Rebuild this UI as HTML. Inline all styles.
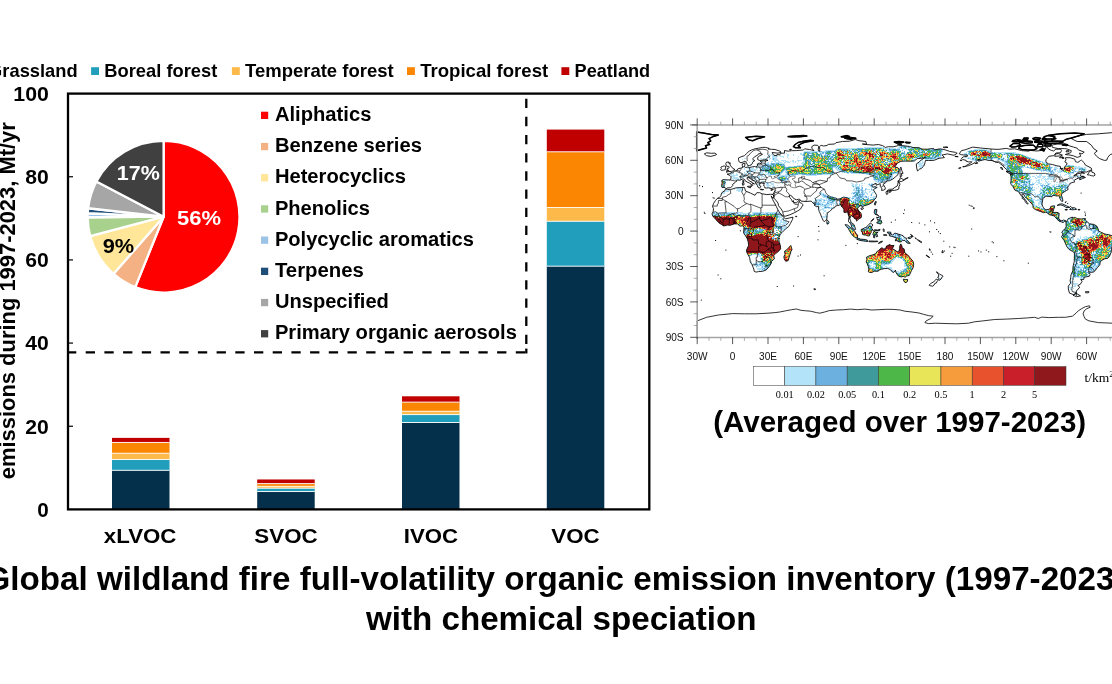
<!DOCTYPE html><html><head><meta charset="utf-8"><title>Global wildland fire emission inventory</title>
<style>html,body{margin:0;padding:0;background:#fff;}body{width:1112px;height:684px;overflow:hidden;}svg{display:block;}text{font-family:"Liberation Sans",Arial,sans-serif;font-weight:bold;fill:#000;}.ser{font-family:"Liberation Serif","Times New Roman",serif;font-weight:normal;}.reg{font-weight:normal;}</style></head><body>
<svg width="1112" height="684" viewBox="0 0 1112 684">
<rect width="1112" height="684" fill="#fff"/>
<defs>
<clipPath id="landclip"><path d="M1040.0 149.8 L1044.1 150.4 L1044.7 149.2 L1042.3 148.6Z M1012.3 141.5 L1017.0 141.8 L1021.1 140.3 L1017.6 139.8 L1012.9 140.6Z M1034.7 142.3 L1041.8 142.7 L1042.3 141.2 L1038.2 140.7 L1034.7 141.3Z M1043.5 143.1 L1047.1 143.1 L1047.1 142.1 L1043.5 142.1Z M1033.5 139.4 L1039.4 139.4 L1040.6 138.2 L1035.3 137.6 L1032.9 138.5Z M1042.3 139.4 L1045.3 139.4 L1045.9 138.5 L1042.9 138.2Z M1022.9 140.0 L1027.6 140.1 L1027.6 139.2 L1023.5 139.0Z M1023.5 138.8 L1027.6 138.8 L1028.2 138.1 L1024.1 138.0Z M1062.4 145.1 L1066.5 145.6 L1067.7 144.8 L1064.2 144.1Z M1066.0 151.8 L1068.9 151.8 L1068.9 150.7 L1066.5 150.6Z M1059.5 157.7 L1063.0 157.7 L1063.0 156.9 L1060.0 156.9Z M1062.4 158.5 L1063.9 158.5 L1063.8 157.6 L1062.6 157.6Z M1060.6 168.9 L1062.8 168.9 L1062.8 168.4 L1060.6 168.4Z M1081.3 172.4 L1084.2 173.1 L1084.6 173.3 L1082.5 173.0Z M1081.5 176.1 L1084.2 176.4 L1083.7 176.9 L1081.9 176.7Z M1000.5 167.5 L1002.0 167.5 L1002.8 169.6 L1001.6 169.2Z M960.0 160.2 L961.9 160.0 L961.8 160.6 L960.3 160.6Z M954.8 156.3 L958.0 156.5 L958.2 156.9 L955.0 156.5Z M962.7 166.7 L964.7 166.3 L964.5 166.9Z M958.6 168.3 L960.9 167.5 L960.7 168.1Z M943.2 147.2 L946.8 146.8 L948.0 147.4 L944.4 147.7Z M894.3 142.1 L899.0 141.5 L903.7 142.1 L901.3 142.9 L896.6 143.1Z M905.5 142.2 L910.2 142.5 L909.6 142.9 L906.1 142.8Z M897.8 144.1 L901.9 144.5 L900.2 144.8 L897.6 144.6Z M844.7 138.0 L850.6 137.6 L855.9 138.2 L850.6 139.2 L847.1 138.8Z M841.2 136.8 L847.1 135.6 L849.4 136.4 L844.7 137.2Z M788.1 136.6 L795.1 135.9 L803.4 135.6 L806.9 136.1 L799.9 136.8 L791.6 136.9Z M789.6 149.4 L791.4 149.3 L791.0 150.0 L789.8 150.0Z M742.3 182.8 L743.9 182.6 L744.0 184.9 L742.6 185.2Z M742.7 180.6 L743.8 180.5 L743.7 182.2 L743.0 182.1Z M747.4 186.4 L750.9 186.1 L750.4 187.9 L747.4 186.8Z M760.3 189.2 L763.6 189.5 L763.3 189.9 L760.4 189.7Z M770.7 189.9 L773.3 189.2 L772.7 190.0 L771.0 190.4Z M795.5 216.3 L796.9 216.3 L796.8 216.7 L795.6 216.7Z M778.9 238.0 L779.2 238.3 L779.1 238.8Z M1084.5 218.6 L1085.4 218.5 L1085.4 219.3 L1084.5 219.3Z M1085.4 291.7 L1089.0 291.7 L1088.6 292.8 L1085.7 292.8Z M813.8 288.8 L815.8 289.0 L815.2 289.7 L814.0 289.5Z M941.8 251.7 L943.3 251.7 L943.2 252.7 L941.9 252.6Z M929.2 248.9 L929.9 248.9 L930.2 250.4 L929.7 250.3Z M917.3 239.5 L919.0 240.3 L922.0 242.2 L921.4 242.6 L918.5 240.9Z M915.1 237.7 L916.4 238.6 L916.2 239.2 L915.3 238.3Z M910.5 234.4 L912.6 235.7 L913.1 236.7 L912.3 236.2Z M904.3 179.3 L907.8 177.5 L908.2 177.7 L904.9 179.5Z M725.5 189.0 L730.2 189.7 L736.1 187.8 L742.0 187.5 L744.4 187.3 L745.6 191.1 L750.3 193.0 L755.0 195.3 L756.8 192.7 L759.7 192.7 L762.1 193.8 L766.8 194.6 L770.4 194.3 L773.0 194.4 L773.8 196.4 L773.0 198.4 L771.1 195.9 L772.5 199.3 L774.5 202.9 L776.3 206.4 L778.0 210.0 L779.8 212.9 L782.8 215.9 L783.7 217.5 L785.7 218.8 L789.2 218.0 L793.0 217.2 L792.5 219.4 L790.4 223.5 L788.7 226.5 L785.7 228.8 L782.2 232.4 L780.4 234.1 L779.0 237.1 L778.9 239.5 L779.3 243.0 L780.4 245.4 L780.6 248.9 L778.6 251.3 L775.7 253.6 L773.7 255.4 L774.4 258.9 L771.5 261.3 L771.3 263.1 L769.2 266.6 L766.2 269.9 L762.7 271.3 L758.6 271.6 L756.0 272.1 L754.2 271.3 L753.8 269.0 L752.1 264.8 L750.3 261.9 L749.7 257.8 L746.8 252.4 L746.5 250.1 L748.6 245.4 L748.2 241.8 L747.0 238.3 L745.6 235.9 L743.6 233.0 L743.8 230.0 L744.0 227.1 L742.6 225.9 L739.7 226.1 L737.9 223.9 L734.4 223.9 L730.2 225.3 L727.3 225.1 L723.8 226.0 L721.4 224.4 L719.0 222.9 L717.0 220.8 L714.9 218.2 L712.9 216.4 L712.0 213.9 L713.1 211.7 L713.5 208.8 L712.5 206.4 L713.7 203.2 L715.5 200.5 L717.3 198.4 L719.6 197.2 L721.0 195.8 L721.2 194.0 L722.6 191.9 L724.6 191.1Z M790.8 245.4 L792.0 249.5 L791.0 251.3 L789.2 257.2 L788.1 260.7 L785.7 261.3 L784.2 258.9 L783.9 256.6 L785.1 254.2 L784.5 251.3 L786.9 249.7 L789.2 247.1Z M722.0 187.5 L721.5 185.5 L722.2 182.8 L721.7 180.5 L723.2 179.6 L727.9 179.9 L730.5 180.0 L731.2 176.9 L729.7 175.4 L727.1 174.1 L730.7 173.7 L730.8 172.6 L732.8 172.8 L734.5 171.3 L736.7 170.5 L738.1 168.7 L740.9 168.1 L742.9 167.5 L742.3 165.7 L742.3 163.9 L745.0 163.1 L744.8 165.1 L744.4 166.8 L745.6 167.5 L747.4 167.0 L749.4 167.5 L752.1 166.9 L754.4 166.5 L756.0 167.0 L757.4 165.9 L757.4 163.9 L759.2 163.1 L761.2 163.7 L761.3 162.4 L760.2 161.3 L763.3 160.9 L765.6 160.9 L768.0 160.4 L766.2 159.8 L763.3 159.9 L759.7 160.5 L757.7 159.5 L757.7 157.4 L759.7 155.7 L762.5 154.3 L760.9 153.6 L758.6 153.7 L757.7 155.1 L754.4 156.9 L752.9 158.6 L753.0 159.7 L754.8 160.6 L752.7 162.1 L752.1 163.9 L751.2 164.9 L749.5 165.6 L747.9 165.8 L747.6 164.9 L746.5 163.1 L745.6 161.6 L745.0 161.0 L743.8 161.8 L740.9 162.8 L739.1 161.8 L738.5 159.8 L738.5 158.0 L740.9 156.9 L744.4 155.7 L746.8 153.3 L749.1 151.2 L751.5 150.0 L755.0 148.8 L758.6 148.2 L762.7 147.4 L765.6 147.4 L769.2 148.4 L768.0 149.0 L771.5 149.3 L775.1 149.5 L780.4 151.3 L781.0 152.6 L777.4 153.1 L772.1 152.5 L773.3 154.5 L773.9 155.3 L776.9 155.7 L776.9 154.5 L779.8 154.9 L780.4 153.3 L784.5 153.1 L784.5 150.5 L788.1 151.2 L791.6 150.7 L796.3 150.6 L799.9 150.3 L803.4 150.0 L804.6 148.8 L809.3 149.5 L811.7 150.0 L814.0 150.7 L812.2 148.6 L811.7 146.8 L814.0 145.1 L817.6 145.3 L818.7 146.8 L818.2 149.8 L819.3 151.6 L819.9 149.8 L819.3 146.8 L821.1 145.3 L823.5 146.0 L827.0 145.5 L828.2 144.4 L834.7 144.0 L835.9 142.7 L842.3 141.5 L849.4 141.2 L855.3 139.5 L858.9 140.7 L865.9 141.5 L866.5 144.2 L862.4 144.0 L865.9 144.5 L873.0 145.1 L878.3 144.5 L882.5 145.6 L885.4 147.4 L888.4 146.7 L893.1 146.8 L897.2 145.9 L898.4 145.3 L904.9 145.9 L909.6 146.5 L913.1 147.5 L919.0 147.7 L922.0 149.1 L927.3 149.2 L930.8 148.7 L933.8 148.6 L934.4 149.8 L940.3 148.8 L945.0 149.8 L949.7 151.4 L955.6 152.4 L957.2 153.3 L953.9 155.3 L947.4 153.9 L943.8 154.7 L942.1 154.9 L944.4 157.6 L939.1 158.3 L933.8 160.4 L928.5 160.5 L925.5 160.4 L924.9 162.8 L924.4 164.9 L923.5 166.3 L921.4 168.4 L919.6 169.2 L917.5 171.0 L916.7 168.1 L916.3 163.9 L919.0 162.2 L921.4 159.8 L925.5 157.4 L921.4 158.3 L917.3 158.6 L914.3 161.0 L910.8 161.2 L904.9 161.1 L900.8 161.3 L897.2 163.3 L894.9 166.9 L898.4 168.1 L899.3 169.2 L898.4 172.2 L898.0 174.6 L895.4 176.9 L892.5 179.3 L889.5 180.7 L887.2 181.0 L886.6 181.3 L885.6 182.8 L883.1 184.2 L885.2 187.5 L885.2 189.3 L883.6 190.1 L881.6 190.5 L881.9 188.1 L880.1 186.6 L880.5 184.6 L879.3 184.0 L876.2 185.2 L876.0 183.2 L873.0 184.9 L871.5 185.8 L873.0 187.2 L875.1 186.6 L877.2 187.5 L874.6 188.7 L873.4 189.9 L875.1 192.6 L876.3 194.6 L876.6 195.8 L876.0 197.9 L874.2 199.9 L873.0 201.7 L870.7 203.5 L867.4 204.9 L863.6 205.9 L862.4 207.2 L861.8 205.8 L860.0 205.7 L858.3 207.6 L857.4 208.8 L858.9 211.1 L860.9 212.9 L861.6 215.9 L861.2 217.6 L858.9 218.9 L856.5 221.1 L856.3 219.4 L854.1 218.2 L853.6 216.8 L851.8 216.2 L851.2 215.3 L850.6 216.4 L849.8 218.8 L850.4 220.2 L851.2 222.7 L852.6 223.5 L854.1 224.7 L854.7 226.5 L855.6 229.4 L854.7 229.7 L852.1 227.9 L851.0 224.7 L850.2 223.2 L848.6 221.8 L848.6 219.4 L849.1 217.0 L847.9 213.5 L847.7 211.7 L845.3 212.6 L843.9 212.3 L843.9 209.4 L842.9 207.8 L841.2 205.8 L840.6 204.4 L839.2 205.2 L837.6 205.5 L835.3 206.1 L834.7 207.6 L832.9 208.2 L829.7 211.5 L827.2 212.9 L827.2 215.5 L826.8 219.0 L825.8 220.3 L824.6 221.4 L824.1 221.6 L822.9 220.0 L821.7 217.3 L820.5 214.1 L819.3 211.7 L818.5 208.8 L818.4 206.2 L817.9 206.4 L816.4 206.7 L814.0 204.9 L815.6 204.1 L813.4 203.5 L812.0 201.9 L811.1 201.1 L805.8 201.5 L801.0 201.1 L799.9 199.3 L798.7 199.2 L796.3 199.8 L793.4 198.3 L792.2 196.4 L790.4 195.3 L789.2 195.8 L789.8 197.6 L791.6 199.7 L792.5 201.9 L793.5 200.6 L793.4 202.4 L796.3 202.8 L798.7 200.8 L799.2 200.2 L799.4 202.3 L801.7 203.4 L803.2 204.8 L801.6 207.1 L800.7 208.9 L797.5 211.1 L794.2 212.8 L790.1 214.7 L785.7 216.1 L783.9 216.2 L783.0 213.7 L782.8 211.7 L781.0 208.8 L778.6 205.8 L778.0 203.1 L776.3 200.8 L774.1 198.2 L773.8 196.4 L773.1 194.3 L773.9 192.5 L775.0 190.4 L775.1 188.7 L775.2 187.8 L773.4 187.8 L771.0 188.6 L768.7 187.8 L766.8 188.0 L764.8 187.9 L764.8 187.1 L763.6 186.0 L764.2 184.6 L763.5 184.0 L764.5 183.5 L763.3 183.3 L760.9 182.9 L760.3 183.8 L759.4 183.4 L759.4 184.8 L760.0 186.1 L760.9 186.4 L759.7 188.1 L759.0 188.1 L757.7 186.9 L757.4 185.2 L755.6 183.4 L755.6 181.9 L754.4 181.0 L751.5 179.9 L750.3 178.3 L748.8 177.9 L748.6 177.3 L747.1 177.6 L747.2 179.0 L748.6 179.9 L749.7 181.3 L751.5 181.8 L751.5 182.3 L754.4 183.8 L754.3 184.1 L752.7 183.4 L752.1 184.4 L752.8 185.2 L752.1 186.0 L751.1 186.4 L751.4 185.3 L751.1 184.0 L749.6 183.2 L747.1 182.0 L745.0 180.6 L744.6 179.4 L743.0 178.8 L741.5 179.5 L739.7 180.3 L737.9 180.0 L736.4 180.2 L736.4 181.3 L735.2 182.5 L733.0 184.0 L732.4 184.8 L732.8 185.4 L731.8 186.7 L730.2 187.8 L727.3 187.9 L726.1 188.7 L725.2 187.8 L724.0 187.3Z M726.1 172.1 L728.5 171.6 L731.4 171.4 L734.1 170.8 L734.5 169.0 L733.0 168.7 L732.4 167.5 L730.8 166.3 L730.2 165.1 L729.7 163.3 L730.5 163.2 L728.5 163.1 L729.1 162.1 L726.7 162.1 L725.8 163.3 L726.1 165.1 L726.7 166.3 L728.8 166.4 L729.1 167.5 L728.8 168.2 L727.3 168.4 L727.5 169.5 L726.5 170.1 L728.5 170.4 L729.1 170.7 L727.3 171.0Z M725.5 169.6 L725.3 168.1 L726.0 166.9 L724.3 165.9 L722.8 166.3 L720.8 167.2 L721.4 168.4 L720.6 169.8 L721.4 170.4 L723.2 170.1Z M706.6 155.7 L704.3 153.9 L706.6 152.8 L711.4 153.3 L714.9 153.1 L716.7 154.5 L714.9 155.3 L710.8 156.4Z M696.7 132.1 L703.1 132.9 L711.4 134.4 L718.4 135.0 L712.5 136.8 L709.0 138.6 L710.8 140.9 L707.8 142.7 L709.6 144.5 L705.5 145.6 L706.6 148.0 L701.9 149.2 L696.7 150.7Z M1111.4 132.7 L1098.4 133.8 L1086.6 134.4 L1077.2 136.2 L1071.3 138.6 L1077.2 141.5 L1086.6 141.5 L1091.3 145.1 L1093.7 148.6 L1097.2 151.0 L1094.3 153.3 L1096.6 156.3 L1099.6 158.6 L1104.3 160.4 L1106.7 160.2 L1107.8 157.4 L1110.2 154.5 L1113.7 153.6 L1114.9 132.7Z M745.6 137.4 L749.1 140.1 L752.7 140.7 L757.4 138.8 L764.5 136.8 L756.2 136.3 L749.1 136.9Z M793.4 146.6 L795.7 147.7 L800.5 147.8 L798.1 145.6 L801.0 143.9 L804.6 142.3 L813.4 140.8 L810.5 140.3 L803.4 141.2 L798.1 142.5 L795.1 144.5Z M887.1 191.1 L889.0 190.7 L891.9 190.4 L894.3 190.4 L896.6 189.9 L898.7 189.1 L899.0 186.4 L899.9 184.6 L899.5 182.3 L898.0 182.8 L897.8 184.2 L897.2 186.0 L894.6 187.5 L894.0 187.7 L893.1 189.1 L889.5 189.3 L887.2 190.6Z M897.8 182.2 L899.0 181.0 L901.3 181.6 L904.3 180.1 L902.9 179.3 L900.2 177.6 L899.7 180.1 L898.2 180.5Z M886.0 191.7 L888.0 191.6 L887.8 194.0 L886.6 194.4 L886.0 192.8Z M889.0 191.2 L891.3 190.8 L891.0 191.8 L889.5 192.5Z M900.2 176.9 L901.9 176.0 L901.3 173.4 L903.1 173.4 L901.7 170.4 L901.3 168.1 L900.8 167.1 L900.2 168.7 L899.9 172.2 L900.2 174.6Z M875.4 201.5 L876.4 201.7 L875.1 205.2 L874.4 204.1Z M860.9 208.4 L863.0 207.6 L863.6 208.1 L862.4 209.6 L860.9 209.1Z M827.0 219.8 L828.5 221.2 L829.1 222.9 L828.2 223.9 L827.0 224.1 L826.8 221.8Z M874.8 209.4 L876.8 209.5 L876.6 212.0 L876.0 213.5 L878.9 215.9 L878.7 216.2 L877.2 214.9 L875.0 214.3 L874.2 212.3Z M876.6 217.3 L878.0 217.6 L880.5 216.4 L880.7 218.2 L879.5 219.4 L877.7 220.3 L877.2 218.8Z M876.6 222.9 L878.3 221.1 L880.7 219.8 L881.9 222.3 L880.7 224.1 L878.9 223.5Z M870.9 221.3 L873.6 218.5 L873.8 218.9 L871.4 221.5Z M861.2 229.4 L862.4 229.2 L864.2 228.0 L865.9 227.4 L868.3 225.3 L870.3 222.9 L871.5 223.8 L873.0 225.1 L871.8 226.1 L871.6 228.2 L872.9 230.0 L871.2 230.6 L871.2 232.4 L870.1 234.1 L869.5 235.9 L867.7 235.9 L865.9 235.0 L864.2 235.0 L862.6 234.5 L862.4 232.7 L861.2 230.8Z M845.1 224.6 L847.7 225.1 L850.6 227.7 L852.4 228.8 L854.7 231.2 L855.9 233.6 L857.7 235.0 L857.4 238.0 L855.9 238.0 L853.0 235.9 L851.2 233.6 L849.4 230.6 L848.2 228.2 L846.5 226.7Z M856.7 239.2 L858.3 238.3 L860.6 239.1 L863.0 239.3 L865.6 239.5 L867.7 240.4 L867.7 241.5 L863.6 241.0 L860.0 240.4 L858.3 239.9Z M868.9 241.0 L870.7 241.0 L873.0 241.1 L875.4 241.2 L877.7 241.0 L877.7 241.6 L874.2 241.8 L870.7 241.8 L868.9 241.6Z M878.3 243.4 L880.1 241.8 L882.5 241.1 L882.2 241.8 L880.1 243.0Z M873.6 230.3 L875.1 229.7 L877.7 230.1 L880.1 229.3 L879.5 230.7 L876.0 230.6 L874.4 231.2 L875.4 232.4 L878.1 232.3 L876.6 233.3 L877.2 235.1 L877.7 236.5 L876.6 236.9 L876.0 235.9 L875.4 234.4 L874.6 234.7 L874.7 237.8 L873.6 237.7 L873.6 235.3 L872.8 234.5 L874.0 231.3Z M883.1 228.8 L884.2 229.4 L884.0 231.8 L883.3 230.6Z M883.6 234.7 L886.6 234.7 L886.8 235.4 L883.6 235.3Z M887.2 232.1 L890.7 232.1 L891.0 234.1 L892.5 235.1 L894.9 233.1 L899.0 234.3 L903.1 235.7 L904.6 237.7 L906.7 238.3 L906.1 239.2 L910.2 243.4 L907.2 243.1 L904.9 240.6 L902.5 240.3 L901.3 241.8 L899.0 241.9 L896.6 240.6 L895.4 241.0 L895.4 239.5 L896.6 239.7 L896.0 237.7 L891.9 236.4 L889.5 235.9 L889.3 234.5 L890.7 233.8 L888.4 233.8Z M907.8 237.8 L909.6 237.1 L912.0 236.2 L912.3 237.1 L910.2 238.5 L908.4 238.6Z M866.5 257.2 L867.1 256.9 L869.5 255.7 L873.0 254.8 L876.0 253.6 L876.9 251.5 L878.6 250.7 L880.1 248.9 L881.9 247.7 L883.6 248.9 L885.4 248.8 L886.6 245.9 L889.0 245.4 L889.0 244.5 L891.9 245.6 L894.0 245.4 L893.1 247.1 L892.5 248.9 L894.9 250.1 L897.2 251.8 L898.7 251.8 L899.6 248.9 L899.8 245.9 L900.8 243.9 L901.9 245.9 L902.2 248.1 L904.1 248.9 L904.9 253.0 L907.8 255.0 L910.5 258.3 L913.1 261.3 L913.7 264.2 L913.1 267.8 L911.4 270.7 L909.8 274.3 L909.4 275.4 L906.7 276.0 L905.2 277.2 L903.1 276.3 L901.9 277.0 L899.0 276.3 L897.8 275.4 L896.0 272.5 L895.4 270.1 L894.3 271.9 L893.1 272.5 L892.5 272.1 L890.7 269.9 L887.8 268.4 L884.8 268.5 L881.3 269.3 L878.9 270.1 L878.3 271.2 L874.2 271.2 L871.8 272.5 L869.5 272.4 L868.3 271.6 L868.9 269.0 L868.3 266.6 L867.1 263.6 L866.2 261.9 L866.9 259.5Z M903.3 279.2 L905.5 279.6 L907.6 279.5 L907.5 281.0 L906.7 282.3 L904.9 282.5 L903.9 281.0Z M936.4 271.8 L938.3 272.9 L939.7 274.3 L942.6 275.6 L943.0 276.6 L941.5 277.6 L941.2 279.0 L939.5 280.3 L938.7 279.9 L939.1 278.4 L937.7 277.6 L938.7 276.0 L938.5 274.3 L936.7 272.5Z M936.4 279.0 L938.2 280.2 L936.7 281.9 L936.5 282.9 L934.7 283.5 L934.0 285.2 L932.6 286.2 L930.2 285.7 L929.1 285.2 L931.2 283.1 L933.8 281.9 L935.0 280.5Z M926.1 255.0 L927.9 256.0 L929.7 257.5 L929.1 257.6 L926.7 256.0Z M959.2 153.8 L961.5 150.6 L965.1 149.8 L972.7 147.1 L980.4 148.0 L991.0 149.0 L998.1 149.4 L1006.4 148.4 L1009.9 149.2 L1014.6 148.8 L1021.7 150.6 L1028.8 151.2 L1030.0 150.4 L1037.0 151.0 L1041.8 150.4 L1044.1 151.6 L1044.7 149.8 L1046.5 146.5 L1048.8 149.2 L1051.2 150.3 L1053.6 151.0 L1055.9 149.2 L1060.6 149.2 L1061.5 150.4 L1060.6 152.7 L1055.9 153.0 L1054.7 154.5 L1053.6 155.7 L1048.8 156.3 L1045.9 159.8 L1045.9 161.8 L1048.2 163.9 L1052.4 164.5 L1057.1 165.9 L1060.3 166.3 L1060.6 168.7 L1061.8 169.8 L1063.6 170.4 L1064.2 169.2 L1064.4 166.9 L1066.5 165.1 L1067.1 163.3 L1064.8 161.9 L1066.0 159.8 L1065.4 157.7 L1070.1 157.7 L1074.8 159.2 L1075.4 161.6 L1077.8 162.4 L1080.7 160.4 L1081.3 160.0 L1084.2 162.8 L1085.4 165.1 L1089.0 166.9 L1091.3 168.1 L1091.7 169.8 L1090.1 170.4 L1086.6 172.0 L1081.9 171.8 L1078.9 172.0 L1075.4 174.6 L1073.6 175.9 L1077.2 174.0 L1080.7 173.1 L1081.5 174.0 L1080.1 175.1 L1081.3 176.7 L1085.4 177.5 L1082.5 178.6 L1079.8 179.8 L1079.3 178.7 L1081.3 177.5 L1078.3 178.1 L1076.0 179.3 L1074.6 179.8 L1073.9 181.0 L1074.8 181.9 L1073.0 182.3 L1070.1 183.3 L1069.8 184.6 L1068.5 185.8 L1067.7 187.5 L1068.1 189.5 L1066.5 190.5 L1064.2 191.9 L1061.8 193.4 L1061.5 195.4 L1062.6 198.8 L1062.9 201.1 L1061.8 201.5 L1060.6 199.9 L1059.8 198.2 L1059.5 196.7 L1058.3 195.8 L1056.5 196.0 L1054.2 195.4 L1052.4 195.6 L1052.0 196.7 L1050.0 196.6 L1046.7 196.2 L1045.3 196.7 L1042.9 198.4 L1042.6 200.5 L1042.0 204.1 L1042.7 206.4 L1043.8 208.4 L1045.9 209.7 L1048.8 209.3 L1050.4 208.2 L1050.8 206.4 L1053.6 205.8 L1054.7 205.9 L1054.2 208.2 L1053.6 209.4 L1053.2 211.1 L1052.6 212.4 L1055.9 212.4 L1058.3 212.6 L1059.1 213.5 L1058.9 216.4 L1058.6 218.2 L1060.0 220.2 L1061.8 220.8 L1063.6 220.0 L1066.0 220.9 L1066.5 221.8 L1068.3 218.6 L1070.1 218.0 L1072.4 217.0 L1073.0 218.2 L1074.8 217.3 L1077.2 218.6 L1081.3 219.0 L1084.2 218.6 L1085.4 220.0 L1086.6 221.2 L1089.5 223.8 L1093.7 224.4 L1096.6 225.9 L1098.4 229.4 L1098.4 231.2 L1100.8 232.1 L1104.9 234.1 L1108.4 234.6 L1112.0 235.7 L1115.7 237.5 L1116.2 240.6 L1113.7 244.2 L1111.4 247.1 L1111.4 251.8 L1109.6 256.0 L1107.8 258.3 L1104.9 258.7 L1101.9 260.3 L1100.2 261.9 L1099.8 264.8 L1097.2 267.8 L1095.5 270.1 L1094.0 271.9 L1090.7 272.4 L1088.5 271.3 L1090.1 274.3 L1089.3 276.3 L1084.2 277.2 L1083.7 279.6 L1080.7 279.6 L1082.1 281.3 L1080.3 284.3 L1077.8 285.5 L1079.8 287.2 L1076.6 290.8 L1076.0 292.9 L1076.8 293.1 L1073.6 294.7 L1069.5 293.1 L1068.3 289.0 L1068.3 286.1 L1070.7 283.1 L1070.1 280.8 L1070.7 277.8 L1071.0 274.9 L1072.8 270.7 L1073.0 266.6 L1074.2 261.9 L1074.4 256.0 L1074.4 252.8 L1072.4 251.3 L1068.9 249.3 L1067.1 247.1 L1066.0 244.8 L1064.2 240.6 L1062.4 238.3 L1061.5 236.5 L1062.6 235.1 L1063.0 233.9 L1061.8 232.4 L1063.0 230.6 L1064.2 229.4 L1065.4 228.2 L1066.2 226.5 L1066.0 223.5 L1066.0 222.3 L1064.8 221.2 L1063.0 222.6 L1061.2 221.8 L1059.5 221.4 L1057.1 219.4 L1056.2 218.2 L1054.2 215.9 L1051.8 215.3 L1049.4 214.7 L1047.1 212.9 L1045.9 212.1 L1043.5 212.7 L1040.6 211.5 L1037.6 210.5 L1035.3 209.5 L1032.9 207.6 L1033.1 205.8 L1031.7 203.7 L1029.4 201.3 L1028.2 199.7 L1026.4 198.2 L1024.7 196.4 L1023.8 194.4 L1021.9 193.8 L1022.2 195.8 L1024.1 198.2 L1025.8 200.5 L1027.2 202.6 L1028.2 203.8 L1027.4 204.1 L1025.2 201.7 L1025.0 200.3 L1022.9 198.8 L1021.9 198.2 L1022.6 197.2 L1020.8 195.2 L1019.3 192.8 L1017.6 191.1 L1015.2 190.5 L1013.7 188.1 L1012.9 186.6 L1011.3 184.6 L1010.7 183.5 L1011.0 180.5 L1011.1 176.9 L1010.3 174.2 L1012.9 175.1 L1012.5 173.4 L1010.5 172.2 L1007.5 171.0 L1006.6 169.5 L1004.0 167.1 L1002.8 165.7 L1000.5 163.9 L998.7 162.4 L996.3 162.5 L994.6 161.6 L992.2 160.6 L988.1 160.4 L985.1 159.5 L982.2 160.2 L978.6 161.2 L978.0 159.5 L980.4 159.0 L978.0 159.8 L976.3 161.2 L975.1 162.5 L972.1 164.2 L968.6 165.6 L965.1 166.5 L966.8 165.1 L970.4 163.3 L971.9 161.8 L968.6 161.9 L966.2 161.3 L966.2 160.4 L962.7 159.5 L961.5 158.3 L963.3 156.9 L967.4 156.3 L967.4 155.1 L965.1 155.1 L961.5 154.7Z M1076.6 293.5 L1080.5 295.9 L1076.6 296.7 L1073.0 295.3 L1074.2 294.3Z M1057.2 205.4 L1059.5 204.1 L1062.4 203.9 L1066.5 205.8 L1069.8 207.4 L1066.0 207.7 L1065.4 206.8 L1063.0 205.6 L1060.6 204.9Z M1069.6 209.4 L1071.3 207.7 L1074.8 207.8 L1076.7 209.3 L1074.2 209.7 L1072.4 209.8Z M1065.0 209.5 L1067.4 209.5 L1067.1 210.1 L1065.4 210.1Z M1078.1 209.4 L1079.9 209.5 L1079.8 210.0 L1078.1 210.0Z M1087.4 174.9 L1089.5 171.6 L1091.7 170.4 L1091.9 172.2 L1094.3 173.0 L1095.1 175.1 L1093.7 176.0 L1091.3 175.7 L1089.5 175.0Z M1006.0 171.3 L1009.5 171.8 L1011.7 174.0 L1009.9 173.7 L1007.0 172.2Z M1063.0 144.2 L1067.7 145.3 L1073.6 147.1 L1077.2 148.2 L1078.3 149.8 L1084.2 152.1 L1081.9 153.9 L1079.5 153.0 L1080.7 156.3 L1077.2 157.4 L1073.6 155.9 L1070.1 155.1 L1065.4 154.5 L1070.7 152.7 L1071.3 150.7 L1066.5 148.8 L1064.2 148.6 L1058.3 148.6 L1052.4 147.4 L1051.8 145.1 L1057.1 144.1Z M1019.3 146.8 L1024.1 145.6 L1030.0 145.1 L1033.5 145.3 L1037.0 148.6 L1033.5 150.0 L1027.6 150.1 L1021.7 149.4 L1018.8 148.4Z M1009.9 146.2 L1013.4 143.5 L1018.8 143.6 L1020.5 145.1 L1015.8 146.8 L1011.7 147.1Z M1051.2 140.9 L1063.0 141.2 L1066.5 139.2 L1071.3 138.0 L1079.5 135.6 L1084.2 133.8 L1074.8 133.1 L1060.6 133.7 L1048.8 135.3 L1053.6 136.8 L1055.9 138.6 L1052.4 139.8Z M1044.1 142.1 L1048.8 143.2 L1058.3 143.3 L1063.0 142.7 L1061.8 141.5 L1052.4 141.2 L1044.1 140.9Z M1019.3 142.3 L1025.2 143.3 L1032.3 142.7 L1032.3 141.5 L1027.6 140.9 L1020.5 141.2Z M1044.7 146.0 L1050.6 146.0 L1051.2 144.1 L1045.3 143.9Z M1037.0 146.8 L1042.9 146.8 L1042.9 144.5 L1038.2 144.1Z M1044.1 139.2 L1053.6 138.8 L1054.7 136.4 L1047.7 135.6 L1044.1 136.8Z M1054.7 156.3 L1060.6 155.9 L1062.4 155.1 L1058.3 153.6 L1055.3 153.9Z M975.1 163.7 L977.7 163.3 L977.5 162.5 L975.9 162.9Z M973.3 208.8 L974.5 208.1 L973.6 207.4Z"/></clipPath>
<filter id="fire" filterUnits="userSpaceOnUse" x="697" y="125" width="415" height="213" color-interpolation-filters="sRGB">
<feGaussianBlur in="SourceGraphic" stdDeviation="1.2" result="b"/>
<feColorMatrix in="b" type="matrix" values="1 0 0 0 0  1 0 0 0 0  1 0 0 0 0  0 0 0 0 1" result="Ri"/>
<feColorMatrix in="b" type="matrix" values="0 1 0 0 0  0 1 0 0 0  0 1 0 0 0  0 0 0 0 1" result="Ai"/>
<feTurbulence type="fractalNoise" baseFrequency="0.11" numOctaves="2" seed="7" result="na"/>
<feTurbulence type="fractalNoise" baseFrequency="0.55" numOctaves="2" seed="11" result="nb"/>
<feColorMatrix in="na" type="matrix" values="0.5 0 0 0 0  0.5 0 0 0 0  0.5 0 0 0 0  0 0 0 0 1" result="na2"/>
<feColorMatrix in="nb" type="matrix" values="0.5 0 0 0 0  0.5 0 0 0 0  0.5 0 0 0 0  0 0 0 0 1" result="nb2"/>
<feComposite in="na2" in2="nb2" operator="arithmetic" k1="0" k2="2.6" k3="2.6" k4="-0.800" result="n2"/>
<feComposite in="Ai" in2="n2" operator="arithmetic" k1="1" k2="0" k3="0" k4="0" result="t"/>
<feComposite in="t" in2="Ai" operator="arithmetic" k1="0" k2="1" k3="-0.5" k4="0.5" result="F"/>
<feComposite in="Ri" in2="F" operator="arithmetic" k1="4.800" k2="-0.400" k3="0" k4="0" result="m"/>
<feComponentTransfer in="m"><feFuncR type="discrete" tableValues="1.000 0.702 0.424 0.247 0.302 0.914 0.969 0.910 0.788 0.561"/><feFuncG type="discrete" tableValues="1.000 0.890 0.690 0.608 0.718 0.898 0.612 0.322 0.122 0.094"/><feFuncB type="discrete" tableValues="1.000 0.973 0.878 0.608 0.282 0.345 0.235 0.173 0.165 0.110"/><feFuncA type="linear" slope="0" intercept="1"/></feComponentTransfer>
</filter></defs>
<g clip-path="url(#landclip)"><g filter="url(#fire)">
<rect x="690" y="120" width="430" height="225" fill="#000"/>
<path d="M720.8 186.9 L745.6 186.4 L745.6 192.3 L730.2 192.3 L720.8 195.8Z" fill="#0e9900"/>
<path d="M711.4 212.3 L779.8 212.3 L779.8 217.6 L711.4 217.6Z" fill="#1a9900"/>
<path d="M711.4 216.3 L776.3 215.9 L776.3 227.1 L744.4 227.1 L742.0 226.5 L711.4 226.5Z" fill="#6c9900"/>
<ellipse cx="723.2" cy="221.4" rx="10.6" ry="3.8" fill="#e63300"/>
<ellipse cx="730.2" cy="220.0" rx="5.9" ry="2.4" fill="#b24c00"/>
<ellipse cx="740.9" cy="222.3" rx="5.3" ry="4.1" fill="#469900"/>
<path d="M747.9 218.5 L760.9 217.3 L773.9 219.0 L774.5 226.5 L765.6 227.9 L752.7 227.4 L747.9 225.3Z" fill="#f22600"/>
<ellipse cx="775.7" cy="221.2" rx="2.6" ry="4.7" fill="#669900"/>
<ellipse cx="782.2" cy="224.1" rx="7.1" ry="9.4" fill="#0d9900"/>
<path d="M742.6 226.7 L769.2 227.7 L769.2 235.3 L743.2 235.9Z" fill="#40ff00"/>
<ellipse cx="745.6" cy="231.2" rx="2.9" ry="4.1" fill="#1a9900"/>
<ellipse cx="758.6" cy="231.2" rx="5.9" ry="2.4" fill="#209900"/>
<path d="M768.0 227.7 L781.0 227.7 L781.0 241.8 L768.0 241.8Z" fill="#4aff00"/>
<path d="M746.2 236.2 L766.8 235.3 L769.2 239.5 L775.1 240.0 L781.0 243.0 L781.0 250.7 L774.5 253.1 L758.6 252.4 L746.2 251.5Z" fill="#f22600"/>
<path d="M746.2 251.5 L775.1 252.8 L775.1 260.1 L771.0 263.1 L756.2 262.5 L749.1 257.2Z" fill="#53e600"/>
<ellipse cx="755.0" cy="259.5" rx="7.7" ry="6.5" fill="#0a9900"/>
<ellipse cx="770.4" cy="255.4" rx="4.1" ry="3.9" fill="#669900"/>
<ellipse cx="763.3" cy="266.6" rx="8.3" ry="5.0" fill="#1c9900"/>
<ellipse cx="767.4" cy="265.4" rx="2.9" ry="4.1" fill="#2e9900"/>
<ellipse cx="769.2" cy="263.6" rx="1.8" ry="2.9" fill="#339900"/>
<path d="M783.3 244.8 L792.8 244.8 L792.8 261.9 L783.3 261.9Z" fill="#599900"/>
<path d="M720.2 188.7 L768.0 188.7 L770.4 178.1 L768.0 163.9 L738.5 163.9 L720.2 173.4Z" fill="#0aff00"/>
<path d="M737.3 163.9 L768.0 163.9 L768.0 155.7 L744.4 155.7 L737.3 160.4Z" fill="#09cc00"/>
<ellipse cx="722.9" cy="183.4" rx="1.4" ry="3.1" fill="#60cc00"/>
<ellipse cx="773.9" cy="168.1" rx="11.2" ry="6.5" fill="#368000"/>
<ellipse cx="768.0" cy="169.8" rx="3.5" ry="2.4" fill="#398000"/>
<path d="M768.0 164.5 L803.4 163.9 L803.4 152.7 L768.0 153.3Z" fill="#0ecc00"/>
<path d="M763.3 188.7 L785.7 188.1 L789.2 181.6 L765.6 181.6Z" fill="#0ecc00"/>
<ellipse cx="783.3" cy="178.1" rx="5.9" ry="2.6" fill="#2ecc00"/>
<path d="M785.7 167.7 L803.4 165.9 L831.7 167.1 L834.1 173.4 L815.2 174.8 L797.5 174.2 L786.9 175.7Z" fill="#3d8c00"/>
<path d="M803.4 152.1 L836.4 150.4 L838.8 166.3 L803.4 165.9Z" fill="#26cc00"/>
<ellipse cx="817.6" cy="159.2" rx="10.6" ry="4.7" fill="#36cc00"/>
<path d="M805.8 165.4 L819.9 165.9 L834.1 165.4" fill="none" stroke="#599900" stroke-width="1.9" stroke-linecap="round" stroke-linejoin="round"/>
<path d="M836.4 149.2 L880.1 148.0 L899.0 149.8 L899.0 172.2 L883.6 174.6 L860.0 173.0 L844.7 172.2 L836.4 169.8Z" fill="#42cc00"/>
<ellipse cx="856.5" cy="159.2" rx="9.4" ry="4.1" fill="#40cc00"/>
<ellipse cx="877.7" cy="154.5" rx="9.4" ry="3.5" fill="#66cc00"/>
<ellipse cx="870.7" cy="168.7" rx="11.2" ry="2.7" fill="#799900"/>
<ellipse cx="886.0" cy="170.4" rx="4.7" ry="2.4" fill="#66cc00"/>
<ellipse cx="850.6" cy="163.9" rx="5.9" ry="2.4" fill="#59cc00"/>
<ellipse cx="864.8" cy="161.6" rx="5.9" ry="2.4" fill="#59cc00"/>
<path d="M899.0 145.6 L942.6 149.2 L940.3 158.0 L921.4 160.4 L899.0 163.9Z" fill="#2ecc00"/>
<ellipse cx="926.1" cy="154.5" rx="5.3" ry="1.8" fill="#59cc00"/>
<ellipse cx="909.6" cy="155.7" rx="7.1" ry="2.9" fill="#46cc00"/>
<path d="M915.5 158.0 L926.1 158.0 L924.9 171.0 L916.1 171.0Z" fill="#0dcc00"/>
<ellipse cx="880.1" cy="176.9" rx="7.1" ry="5.3" fill="#299900"/>
<ellipse cx="889.5" cy="176.9" rx="3.5" ry="4.1" fill="#2acc00"/>
<path d="M850.6 182.8 L877.7 182.8 L877.7 204.1 L860.0 206.4 L849.4 205.2Z" fill="#13ff00"/>
<ellipse cx="868.3" cy="201.9" rx="7.7" ry="3.3" fill="#42cc00"/>
<ellipse cx="860.0" cy="203.5" rx="3.5" ry="2.4" fill="#2dcc00"/>
<ellipse cx="883.1" cy="187.5" rx="2.9" ry="4.1" fill="#0bcc00"/>
<path d="M886.0 194.6 L904.9 178.1 L899.0 178.1 L884.8 191.1Z" fill="#09cc00"/>
<path d="M812.8 197.0 L836.4 198.8 L837.6 206.4 L827.0 221.8 L819.9 218.2 L814.0 206.4Z" fill="#12ff00"/>
<path d="M819.9 193.4 L827.0 196.6 L836.4 199.1" fill="none" stroke="#40cc00" stroke-width="1.4" stroke-linecap="round" stroke-linejoin="round"/>
<ellipse cx="842.9" cy="201.7" rx="3.3" ry="3.3" fill="#4ccc00"/>
<ellipse cx="828.2" cy="223.5" rx="1.8" ry="2.9" fill="#20cc00"/>
<path d="M841.5 198.8 L849.1 198.8 L849.7 213.5 L847.9 218.2 L843.9 212.3 L841.5 206.4Z" fill="#cc5900"/>
<path d="M848.8 201.7 L856.5 203.7 L861.8 212.3 L861.8 218.2 L855.3 220.6 L850.6 217.0 L848.8 213.5Z" fill="#80b200"/>
<ellipse cx="851.5" cy="213.5" rx="1.8" ry="2.4" fill="#2dcc00"/>
<ellipse cx="857.7" cy="206.4" rx="2.4" ry="1.8" fill="#33cc00"/>
<path d="M848.2 219.4 L855.9 222.9 L855.9 230.0 L848.2 222.9Z" fill="#2acc00"/>
<path d="M844.7 224.1 L858.9 234.7 L857.7 238.9 L844.7 226.5Z" fill="#40cc00"/>
<ellipse cx="855.3" cy="234.5" rx="2.4" ry="2.9" fill="#66cc00"/>
<path d="M860.6 222.3 L873.6 222.3 L873.6 236.5 L860.6 236.5Z" fill="#29cc00"/>
<ellipse cx="865.4" cy="233.1" rx="4.7" ry="3.1" fill="#60cc00"/>
<path d="M856.5 238.0 L882.5 240.4 L882.5 243.6 L856.5 240.6Z" fill="#2acc00"/>
<path d="M872.4 228.8 L880.7 228.8 L880.7 238.3 L872.4 238.3Z" fill="#26cc00"/>
<path d="M870.1 208.8 L882.5 208.8 L882.5 224.7 L870.1 224.7Z" fill="#26cc00"/>
<path d="M886.0 231.2 L910.8 233.6 L910.8 244.2 L886.0 237.1Z" fill="#1acc00"/>
<ellipse cx="898.4" cy="240.2" rx="3.8" ry="1.8" fill="#66cc00"/>
<path d="M864.8 243.0 L915.5 243.0 L915.5 278.4 L864.8 278.4Z" fill="#309900"/>
<path d="M864.8 243.0 L915.5 243.0 L915.5 254.2 L891.9 255.4 L873.0 256.0Z" fill="#669900"/>
<ellipse cx="888.4" cy="247.1" rx="4.2" ry="2.6" fill="#cc4c00"/>
<ellipse cx="881.3" cy="250.1" rx="3.8" ry="2.6" fill="#b24c00"/>
<ellipse cx="901.3" cy="248.3" rx="2.1" ry="4.7" fill="#cc4c00"/>
<ellipse cx="895.4" cy="252.2" rx="4.7" ry="2.1" fill="#799900"/>
<path d="M867.1 256.0 L909.6 254.2 L909.6 259.5 L867.1 260.7Z" fill="#4f9900"/>
<path d="M865.9 260.7 L887.2 259.5 L887.2 266.0 L865.9 266.0Z" fill="#369900"/>
<ellipse cx="898.4" cy="264.8" rx="7.7" ry="8.3" fill="#089900"/>
<ellipse cx="887.8" cy="266.0" rx="7.7" ry="3.1" fill="#0a9900"/>
<ellipse cx="872.4" cy="266.0" rx="3.9" ry="4.5" fill="#099900"/>
<path d="M904.3 252.4 L908.4 254.8 L914.3 260.7 L914.3 269.0 L910.8 274.9 L906.1 274.9 L907.8 264.2 L903.7 257.2Z" fill="#4f9900"/>
<ellipse cx="904.9" cy="275.2" rx="4.2" ry="1.7" fill="#399900"/>
<ellipse cx="870.7" cy="270.8" rx="3.1" ry="1.7" fill="#4c9900"/>
<ellipse cx="905.5" cy="280.8" rx="2.4" ry="2.1" fill="#579900"/>
<path d="M927.3 271.3 L943.8 271.3 L943.8 286.7 L927.3 286.7Z" fill="#099900"/>
<path d="M1008.7 172.2 L1086.6 172.2 L1086.6 201.7 L1008.7 201.7Z" fill="#0aff00"/>
<ellipse cx="980.4" cy="155.1" rx="16.5" ry="5.7" fill="#26ff00"/>
<ellipse cx="980.4" cy="154.0" rx="11.8" ry="1.9" fill="#6ccc00"/>
<path d="M995.7 152.7 L1015.8 153.3 L1033.5 159.2 L1048.8 164.5 L1053.6 169.8 L1042.9 170.7 L1027.6 167.7 L1013.4 164.5 L995.7 158.6Z" fill="#39ff00"/>
<path d="M1009.9 157.1 L1025.2 158.9 L1039.4 163.3 L1043.5 166.5 L1034.7 165.7 L1020.5 161.3 L1009.9 159.2Z" fill="#73b200"/>
<path d="M1048.8 166.9 L1066.5 165.7 L1086.6 167.5 L1086.6 172.2 L1048.8 172.2Z" fill="#1ae600"/>
<ellipse cx="1069.5" cy="169.0" rx="5.0" ry="2.8" fill="#60e600"/>
<path d="M1002.8 162.8 L1020.5 165.1 L1022.9 173.4 L1009.9 173.4Z" fill="#2ae600"/>
<path d="M1009.9 173.4 L1028.2 173.4 L1032.9 184.0 L1030.5 192.8 L1017.6 192.8 L1010.5 184.0Z" fill="#26e600"/>
<ellipse cx="1013.8" cy="183.4" rx="1.9" ry="5.9" fill="#46e600"/>
<ellipse cx="1022.3" cy="177.5" rx="2.8" ry="2.6" fill="#40e600"/>
<ellipse cx="1027.6" cy="191.1" rx="2.9" ry="2.4" fill="#33e600"/>
<path d="M1039.4 187.5 L1045.3 184.2 L1066.5 184.8 L1068.3 189.9 L1062.4 195.8 L1063.0 201.7 L1059.5 199.3 L1057.1 196.6 L1042.3 198.8 L1039.4 194.6Z" fill="#26e600"/>
<ellipse cx="1058.9" cy="194.6" rx="3.8" ry="2.4" fill="#39e600"/>
<ellipse cx="1050.6" cy="191.7" rx="2.4" ry="3.5" fill="#33e600"/>
<ellipse cx="1043.8" cy="187.2" rx="1.7" ry="3.1" fill="#30e600"/>
<path d="M1021.7 192.8 L1042.9 200.5 L1042.9 210.0 L1021.7 205.2Z" fill="#0be600"/>
<path d="M1028.2 197.0 L1031.7 202.9 L1033.5 207.0 L1039.4 210.9 L1045.3 212.0" fill="none" stroke="#638000" stroke-width="3.1" stroke-linecap="round" stroke-linejoin="round"/>
<path d="M1041.2 201.7 L1041.4 206.4 L1043.5 209.0" fill="none" stroke="#2ae600" stroke-width="1.8" stroke-linecap="round" stroke-linejoin="round"/>
<ellipse cx="1051.8" cy="209.0" rx="2.6" ry="3.1" fill="#6ce600"/>
<path d="M1048.2 211.1 L1059.5 212.3 L1059.5 219.4 L1055.9 218.8 L1048.2 214.7Z" fill="#40e600"/>
<path d="M1056.5 218.2 L1066.5 220.0 L1066.5 222.9 L1058.3 221.8Z" fill="#2ae600"/>
<path d="M1057.1 203.5 L1070.1 206.4 L1070.1 208.2 L1057.1 205.8Z" fill="#26e600"/>
<path d="M1068.9 207.4 L1077.2 207.4 L1077.2 210.2 L1068.9 210.2Z" fill="#20e600"/>
<path d="M1060.6 215.9 L1117.3 215.9 L1117.3 266.6 L1086.6 278.4 L1068.9 278.4 L1060.6 254.8Z" fill="#1aff00"/>
<ellipse cx="1077.2" cy="222.9" rx="8.8" ry="3.9" fill="#4ccc00"/>
<ellipse cx="1076.0" cy="222.3" rx="3.5" ry="1.8" fill="#6ccc00"/>
<ellipse cx="1069.5" cy="225.3" rx="2.9" ry="5.3" fill="#2ecc00"/>
<ellipse cx="1081.9" cy="234.5" rx="11.2" ry="5.4" fill="#09cc00"/>
<ellipse cx="1089.0" cy="227.7" rx="5.9" ry="3.5" fill="#14cc00"/>
<ellipse cx="1070.7" cy="237.1" rx="3.5" ry="5.9" fill="#0fcc00"/>
<path d="M1077.2 242.4 L1086.6 239.7 L1096.0 235.9 L1101.9 235.3 L1104.9 240.6 L1101.3 247.1 L1093.7 251.8 L1089.0 255.2 L1082.5 254.2 L1077.2 248.9Z" fill="#54cc00"/>
<ellipse cx="1090.1" cy="245.9" rx="7.1" ry="3.9" fill="#80a600"/>
<ellipse cx="1082.5" cy="250.1" rx="2.9" ry="2.9" fill="#8c9900"/>
<ellipse cx="1098.4" cy="240.6" rx="3.5" ry="3.5" fill="#79cc00"/>
<path d="M1100.8 233.0 L1109.0 234.1 L1113.2 240.6 L1109.6 249.5 L1103.1 250.7 L1101.9 240.6Z" fill="#4acc00"/>
<ellipse cx="1103.7" cy="240.0" rx="2.8" ry="5.9" fill="#66cc00"/>
<path d="M1096.0 251.8 L1109.0 250.1 L1110.8 256.0 L1101.9 261.3 L1094.9 262.5Z" fill="#33cc00"/>
<ellipse cx="1086.6" cy="260.7" rx="4.7" ry="6.1" fill="#53cc00"/>
<ellipse cx="1088.6" cy="257.2" rx="2.6" ry="3.1" fill="#939900"/>
<ellipse cx="1093.1" cy="267.8" rx="3.8" ry="3.5" fill="#11cc00"/>
<ellipse cx="1082.5" cy="273.1" rx="5.3" ry="4.7" fill="#2acc00"/>
<path d="M1067.7 278.4 L1084.2 278.4 L1081.9 297.3 L1066.5 297.3Z" fill="#09cc00"/>
<path d="M1063.6 233.6 L1066.0 240.6 L1070.1 247.1 L1074.8 251.3" fill="none" stroke="#33cc00" stroke-width="2.6" stroke-linecap="round" stroke-linejoin="round"/>
<path d="M1073.0 267.8 L1071.5 276.0 L1071.3 280.8" fill="none" stroke="#30cc00" stroke-width="1.9" stroke-linecap="round" stroke-linejoin="round"/>
</g></g>
<g id="map">
<path d="M1040.0 149.8 L1044.1 150.4 L1044.7 149.2 L1042.3 148.6Z M1012.3 141.5 L1017.0 141.8 L1021.1 140.3 L1017.6 139.8 L1012.9 140.6Z M1034.7 142.3 L1041.8 142.7 L1042.3 141.2 L1038.2 140.7 L1034.7 141.3Z M1043.5 143.1 L1047.1 143.1 L1047.1 142.1 L1043.5 142.1Z M1033.5 139.4 L1039.4 139.4 L1040.6 138.2 L1035.3 137.6 L1032.9 138.5Z M1042.3 139.4 L1045.3 139.4 L1045.9 138.5 L1042.9 138.2Z M1022.9 140.0 L1027.6 140.1 L1027.6 139.2 L1023.5 139.0Z M1023.5 138.8 L1027.6 138.8 L1028.2 138.1 L1024.1 138.0Z M1062.4 145.1 L1066.5 145.6 L1067.7 144.8 L1064.2 144.1Z M1066.0 151.8 L1068.9 151.8 L1068.9 150.7 L1066.5 150.6Z M1059.5 157.7 L1063.0 157.7 L1063.0 156.9 L1060.0 156.9Z M1062.4 158.5 L1063.9 158.5 L1063.8 157.6 L1062.6 157.6Z M1060.6 168.9 L1062.8 168.9 L1062.8 168.4 L1060.6 168.4Z M1081.3 172.4 L1084.2 173.1 L1084.6 173.3 L1082.5 173.0Z M1081.5 176.1 L1084.2 176.4 L1083.7 176.9 L1081.9 176.7Z M1000.5 167.5 L1002.0 167.5 L1002.8 169.6 L1001.6 169.2Z M960.0 160.2 L961.9 160.0 L961.8 160.6 L960.3 160.6Z M954.8 156.3 L958.0 156.5 L958.2 156.9 L955.0 156.5Z M962.7 166.7 L964.7 166.3 L964.5 166.9Z M958.6 168.3 L960.9 167.5 L960.7 168.1Z M943.2 147.2 L946.8 146.8 L948.0 147.4 L944.4 147.7Z M894.3 142.1 L899.0 141.5 L903.7 142.1 L901.3 142.9 L896.6 143.1Z M905.5 142.2 L910.2 142.5 L909.6 142.9 L906.1 142.8Z M897.8 144.1 L901.9 144.5 L900.2 144.8 L897.6 144.6Z M844.7 138.0 L850.6 137.6 L855.9 138.2 L850.6 139.2 L847.1 138.8Z M841.2 136.8 L847.1 135.6 L849.4 136.4 L844.7 137.2Z M788.1 136.6 L795.1 135.9 L803.4 135.6 L806.9 136.1 L799.9 136.8 L791.6 136.9Z M789.6 149.4 L791.4 149.3 L791.0 150.0 L789.8 150.0Z M742.3 182.8 L743.9 182.6 L744.0 184.9 L742.6 185.2Z M742.7 180.6 L743.8 180.5 L743.7 182.2 L743.0 182.1Z M747.4 186.4 L750.9 186.1 L750.4 187.9 L747.4 186.8Z M760.3 189.2 L763.6 189.5 L763.3 189.9 L760.4 189.7Z M770.7 189.9 L773.3 189.2 L772.7 190.0 L771.0 190.4Z M795.5 216.3 L796.9 216.3 L796.8 216.7 L795.6 216.7Z M778.9 238.0 L779.2 238.3 L779.1 238.8Z M1084.5 218.6 L1085.4 218.5 L1085.4 219.3 L1084.5 219.3Z M1085.4 291.7 L1089.0 291.7 L1088.6 292.8 L1085.7 292.8Z M813.8 288.8 L815.8 289.0 L815.2 289.7 L814.0 289.5Z M941.8 251.7 L943.3 251.7 L943.2 252.7 L941.9 252.6Z M929.2 248.9 L929.9 248.9 L930.2 250.4 L929.7 250.3Z M917.3 239.5 L919.0 240.3 L922.0 242.2 L921.4 242.6 L918.5 240.9Z M915.1 237.7 L916.4 238.6 L916.2 239.2 L915.3 238.3Z M910.5 234.4 L912.6 235.7 L913.1 236.7 L912.3 236.2Z M904.3 179.3 L907.8 177.5 L908.2 177.7 L904.9 179.5Z M725.5 189.0 L730.2 189.7 L736.1 187.8 L742.0 187.5 L744.4 187.3 L745.6 191.1 L750.3 193.0 L755.0 195.3 L756.8 192.7 L759.7 192.7 L762.1 193.8 L766.8 194.6 L770.4 194.3 L773.0 194.4 L773.8 196.4 L773.0 198.4 L771.1 195.9 L772.5 199.3 L774.5 202.9 L776.3 206.4 L778.0 210.0 L779.8 212.9 L782.8 215.9 L783.7 217.5 L785.7 218.8 L789.2 218.0 L793.0 217.2 L792.5 219.4 L790.4 223.5 L788.7 226.5 L785.7 228.8 L782.2 232.4 L780.4 234.1 L779.0 237.1 L778.9 239.5 L779.3 243.0 L780.4 245.4 L780.6 248.9 L778.6 251.3 L775.7 253.6 L773.7 255.4 L774.4 258.9 L771.5 261.3 L771.3 263.1 L769.2 266.6 L766.2 269.9 L762.7 271.3 L758.6 271.6 L756.0 272.1 L754.2 271.3 L753.8 269.0 L752.1 264.8 L750.3 261.9 L749.7 257.8 L746.8 252.4 L746.5 250.1 L748.6 245.4 L748.2 241.8 L747.0 238.3 L745.6 235.9 L743.6 233.0 L743.8 230.0 L744.0 227.1 L742.6 225.9 L739.7 226.1 L737.9 223.9 L734.4 223.9 L730.2 225.3 L727.3 225.1 L723.8 226.0 L721.4 224.4 L719.0 222.9 L717.0 220.8 L714.9 218.2 L712.9 216.4 L712.0 213.9 L713.1 211.7 L713.5 208.8 L712.5 206.4 L713.7 203.2 L715.5 200.5 L717.3 198.4 L719.6 197.2 L721.0 195.8 L721.2 194.0 L722.6 191.9 L724.6 191.1Z M790.8 245.4 L792.0 249.5 L791.0 251.3 L789.2 257.2 L788.1 260.7 L785.7 261.3 L784.2 258.9 L783.9 256.6 L785.1 254.2 L784.5 251.3 L786.9 249.7 L789.2 247.1Z M722.0 187.5 L721.5 185.5 L722.2 182.8 L721.7 180.5 L723.2 179.6 L727.9 179.9 L730.5 180.0 L731.2 176.9 L729.7 175.4 L727.1 174.1 L730.7 173.7 L730.8 172.6 L732.8 172.8 L734.5 171.3 L736.7 170.5 L738.1 168.7 L740.9 168.1 L742.9 167.5 L742.3 165.7 L742.3 163.9 L745.0 163.1 L744.8 165.1 L744.4 166.8 L745.6 167.5 L747.4 167.0 L749.4 167.5 L752.1 166.9 L754.4 166.5 L756.0 167.0 L757.4 165.9 L757.4 163.9 L759.2 163.1 L761.2 163.7 L761.3 162.4 L760.2 161.3 L763.3 160.9 L765.6 160.9 L768.0 160.4 L766.2 159.8 L763.3 159.9 L759.7 160.5 L757.7 159.5 L757.7 157.4 L759.7 155.7 L762.5 154.3 L760.9 153.6 L758.6 153.7 L757.7 155.1 L754.4 156.9 L752.9 158.6 L753.0 159.7 L754.8 160.6 L752.7 162.1 L752.1 163.9 L751.2 164.9 L749.5 165.6 L747.9 165.8 L747.6 164.9 L746.5 163.1 L745.6 161.6 L745.0 161.0 L743.8 161.8 L740.9 162.8 L739.1 161.8 L738.5 159.8 L738.5 158.0 L740.9 156.9 L744.4 155.7 L746.8 153.3 L749.1 151.2 L751.5 150.0 L755.0 148.8 L758.6 148.2 L762.7 147.4 L765.6 147.4 L769.2 148.4 L768.0 149.0 L771.5 149.3 L775.1 149.5 L780.4 151.3 L781.0 152.6 L777.4 153.1 L772.1 152.5 L773.3 154.5 L773.9 155.3 L776.9 155.7 L776.9 154.5 L779.8 154.9 L780.4 153.3 L784.5 153.1 L784.5 150.5 L788.1 151.2 L791.6 150.7 L796.3 150.6 L799.9 150.3 L803.4 150.0 L804.6 148.8 L809.3 149.5 L811.7 150.0 L814.0 150.7 L812.2 148.6 L811.7 146.8 L814.0 145.1 L817.6 145.3 L818.7 146.8 L818.2 149.8 L819.3 151.6 L819.9 149.8 L819.3 146.8 L821.1 145.3 L823.5 146.0 L827.0 145.5 L828.2 144.4 L834.7 144.0 L835.9 142.7 L842.3 141.5 L849.4 141.2 L855.3 139.5 L858.9 140.7 L865.9 141.5 L866.5 144.2 L862.4 144.0 L865.9 144.5 L873.0 145.1 L878.3 144.5 L882.5 145.6 L885.4 147.4 L888.4 146.7 L893.1 146.8 L897.2 145.9 L898.4 145.3 L904.9 145.9 L909.6 146.5 L913.1 147.5 L919.0 147.7 L922.0 149.1 L927.3 149.2 L930.8 148.7 L933.8 148.6 L934.4 149.8 L940.3 148.8 L945.0 149.8 L949.7 151.4 L955.6 152.4 L957.2 153.3 L953.9 155.3 L947.4 153.9 L943.8 154.7 L942.1 154.9 L944.4 157.6 L939.1 158.3 L933.8 160.4 L928.5 160.5 L925.5 160.4 L924.9 162.8 L924.4 164.9 L923.5 166.3 L921.4 168.4 L919.6 169.2 L917.5 171.0 L916.7 168.1 L916.3 163.9 L919.0 162.2 L921.4 159.8 L925.5 157.4 L921.4 158.3 L917.3 158.6 L914.3 161.0 L910.8 161.2 L904.9 161.1 L900.8 161.3 L897.2 163.3 L894.9 166.9 L898.4 168.1 L899.3 169.2 L898.4 172.2 L898.0 174.6 L895.4 176.9 L892.5 179.3 L889.5 180.7 L887.2 181.0 L886.6 181.3 L885.6 182.8 L883.1 184.2 L885.2 187.5 L885.2 189.3 L883.6 190.1 L881.6 190.5 L881.9 188.1 L880.1 186.6 L880.5 184.6 L879.3 184.0 L876.2 185.2 L876.0 183.2 L873.0 184.9 L871.5 185.8 L873.0 187.2 L875.1 186.6 L877.2 187.5 L874.6 188.7 L873.4 189.9 L875.1 192.6 L876.3 194.6 L876.6 195.8 L876.0 197.9 L874.2 199.9 L873.0 201.7 L870.7 203.5 L867.4 204.9 L863.6 205.9 L862.4 207.2 L861.8 205.8 L860.0 205.7 L858.3 207.6 L857.4 208.8 L858.9 211.1 L860.9 212.9 L861.6 215.9 L861.2 217.6 L858.9 218.9 L856.5 221.1 L856.3 219.4 L854.1 218.2 L853.6 216.8 L851.8 216.2 L851.2 215.3 L850.6 216.4 L849.8 218.8 L850.4 220.2 L851.2 222.7 L852.6 223.5 L854.1 224.7 L854.7 226.5 L855.6 229.4 L854.7 229.7 L852.1 227.9 L851.0 224.7 L850.2 223.2 L848.6 221.8 L848.6 219.4 L849.1 217.0 L847.9 213.5 L847.7 211.7 L845.3 212.6 L843.9 212.3 L843.9 209.4 L842.9 207.8 L841.2 205.8 L840.6 204.4 L839.2 205.2 L837.6 205.5 L835.3 206.1 L834.7 207.6 L832.9 208.2 L829.7 211.5 L827.2 212.9 L827.2 215.5 L826.8 219.0 L825.8 220.3 L824.6 221.4 L824.1 221.6 L822.9 220.0 L821.7 217.3 L820.5 214.1 L819.3 211.7 L818.5 208.8 L818.4 206.2 L817.9 206.4 L816.4 206.7 L814.0 204.9 L815.6 204.1 L813.4 203.5 L812.0 201.9 L811.1 201.1 L805.8 201.5 L801.0 201.1 L799.9 199.3 L798.7 199.2 L796.3 199.8 L793.4 198.3 L792.2 196.4 L790.4 195.3 L789.2 195.8 L789.8 197.6 L791.6 199.7 L792.5 201.9 L793.5 200.6 L793.4 202.4 L796.3 202.8 L798.7 200.8 L799.2 200.2 L799.4 202.3 L801.7 203.4 L803.2 204.8 L801.6 207.1 L800.7 208.9 L797.5 211.1 L794.2 212.8 L790.1 214.7 L785.7 216.1 L783.9 216.2 L783.0 213.7 L782.8 211.7 L781.0 208.8 L778.6 205.8 L778.0 203.1 L776.3 200.8 L774.1 198.2 L773.8 196.4 L773.1 194.3 L773.9 192.5 L775.0 190.4 L775.1 188.7 L775.2 187.8 L773.4 187.8 L771.0 188.6 L768.7 187.8 L766.8 188.0 L764.8 187.9 L764.8 187.1 L763.6 186.0 L764.2 184.6 L763.5 184.0 L764.5 183.5 L763.3 183.3 L760.9 182.9 L760.3 183.8 L759.4 183.4 L759.4 184.8 L760.0 186.1 L760.9 186.4 L759.7 188.1 L759.0 188.1 L757.7 186.9 L757.4 185.2 L755.6 183.4 L755.6 181.9 L754.4 181.0 L751.5 179.9 L750.3 178.3 L748.8 177.9 L748.6 177.3 L747.1 177.6 L747.2 179.0 L748.6 179.9 L749.7 181.3 L751.5 181.8 L751.5 182.3 L754.4 183.8 L754.3 184.1 L752.7 183.4 L752.1 184.4 L752.8 185.2 L752.1 186.0 L751.1 186.4 L751.4 185.3 L751.1 184.0 L749.6 183.2 L747.1 182.0 L745.0 180.6 L744.6 179.4 L743.0 178.8 L741.5 179.5 L739.7 180.3 L737.9 180.0 L736.4 180.2 L736.4 181.3 L735.2 182.5 L733.0 184.0 L732.4 184.8 L732.8 185.4 L731.8 186.7 L730.2 187.8 L727.3 187.9 L726.1 188.7 L725.2 187.8 L724.0 187.3Z M726.1 172.1 L728.5 171.6 L731.4 171.4 L734.1 170.8 L734.5 169.0 L733.0 168.7 L732.4 167.5 L730.8 166.3 L730.2 165.1 L729.7 163.3 L730.5 163.2 L728.5 163.1 L729.1 162.1 L726.7 162.1 L725.8 163.3 L726.1 165.1 L726.7 166.3 L728.8 166.4 L729.1 167.5 L728.8 168.2 L727.3 168.4 L727.5 169.5 L726.5 170.1 L728.5 170.4 L729.1 170.7 L727.3 171.0Z M725.5 169.6 L725.3 168.1 L726.0 166.9 L724.3 165.9 L722.8 166.3 L720.8 167.2 L721.4 168.4 L720.6 169.8 L721.4 170.4 L723.2 170.1Z M706.6 155.7 L704.3 153.9 L706.6 152.8 L711.4 153.3 L714.9 153.1 L716.7 154.5 L714.9 155.3 L710.8 156.4Z M696.7 132.1 L703.1 132.9 L711.4 134.4 L718.4 135.0 L712.5 136.8 L709.0 138.6 L710.8 140.9 L707.8 142.7 L709.6 144.5 L705.5 145.6 L706.6 148.0 L701.9 149.2 L696.7 150.7Z M1111.4 132.7 L1098.4 133.8 L1086.6 134.4 L1077.2 136.2 L1071.3 138.6 L1077.2 141.5 L1086.6 141.5 L1091.3 145.1 L1093.7 148.6 L1097.2 151.0 L1094.3 153.3 L1096.6 156.3 L1099.6 158.6 L1104.3 160.4 L1106.7 160.2 L1107.8 157.4 L1110.2 154.5 L1113.7 153.6 L1114.9 132.7Z M745.6 137.4 L749.1 140.1 L752.7 140.7 L757.4 138.8 L764.5 136.8 L756.2 136.3 L749.1 136.9Z M793.4 146.6 L795.7 147.7 L800.5 147.8 L798.1 145.6 L801.0 143.9 L804.6 142.3 L813.4 140.8 L810.5 140.3 L803.4 141.2 L798.1 142.5 L795.1 144.5Z M887.1 191.1 L889.0 190.7 L891.9 190.4 L894.3 190.4 L896.6 189.9 L898.7 189.1 L899.0 186.4 L899.9 184.6 L899.5 182.3 L898.0 182.8 L897.8 184.2 L897.2 186.0 L894.6 187.5 L894.0 187.7 L893.1 189.1 L889.5 189.3 L887.2 190.6Z M897.8 182.2 L899.0 181.0 L901.3 181.6 L904.3 180.1 L902.9 179.3 L900.2 177.6 L899.7 180.1 L898.2 180.5Z M886.0 191.7 L888.0 191.6 L887.8 194.0 L886.6 194.4 L886.0 192.8Z M889.0 191.2 L891.3 190.8 L891.0 191.8 L889.5 192.5Z M900.2 176.9 L901.9 176.0 L901.3 173.4 L903.1 173.4 L901.7 170.4 L901.3 168.1 L900.8 167.1 L900.2 168.7 L899.9 172.2 L900.2 174.6Z M875.4 201.5 L876.4 201.7 L875.1 205.2 L874.4 204.1Z M860.9 208.4 L863.0 207.6 L863.6 208.1 L862.4 209.6 L860.9 209.1Z M827.0 219.8 L828.5 221.2 L829.1 222.9 L828.2 223.9 L827.0 224.1 L826.8 221.8Z M874.8 209.4 L876.8 209.5 L876.6 212.0 L876.0 213.5 L878.9 215.9 L878.7 216.2 L877.2 214.9 L875.0 214.3 L874.2 212.3Z M876.6 217.3 L878.0 217.6 L880.5 216.4 L880.7 218.2 L879.5 219.4 L877.7 220.3 L877.2 218.8Z M876.6 222.9 L878.3 221.1 L880.7 219.8 L881.9 222.3 L880.7 224.1 L878.9 223.5Z M870.9 221.3 L873.6 218.5 L873.8 218.9 L871.4 221.5Z M861.2 229.4 L862.4 229.2 L864.2 228.0 L865.9 227.4 L868.3 225.3 L870.3 222.9 L871.5 223.8 L873.0 225.1 L871.8 226.1 L871.6 228.2 L872.9 230.0 L871.2 230.6 L871.2 232.4 L870.1 234.1 L869.5 235.9 L867.7 235.9 L865.9 235.0 L864.2 235.0 L862.6 234.5 L862.4 232.7 L861.2 230.8Z M845.1 224.6 L847.7 225.1 L850.6 227.7 L852.4 228.8 L854.7 231.2 L855.9 233.6 L857.7 235.0 L857.4 238.0 L855.9 238.0 L853.0 235.9 L851.2 233.6 L849.4 230.6 L848.2 228.2 L846.5 226.7Z M856.7 239.2 L858.3 238.3 L860.6 239.1 L863.0 239.3 L865.6 239.5 L867.7 240.4 L867.7 241.5 L863.6 241.0 L860.0 240.4 L858.3 239.9Z M868.9 241.0 L870.7 241.0 L873.0 241.1 L875.4 241.2 L877.7 241.0 L877.7 241.6 L874.2 241.8 L870.7 241.8 L868.9 241.6Z M878.3 243.4 L880.1 241.8 L882.5 241.1 L882.2 241.8 L880.1 243.0Z M873.6 230.3 L875.1 229.7 L877.7 230.1 L880.1 229.3 L879.5 230.7 L876.0 230.6 L874.4 231.2 L875.4 232.4 L878.1 232.3 L876.6 233.3 L877.2 235.1 L877.7 236.5 L876.6 236.9 L876.0 235.9 L875.4 234.4 L874.6 234.7 L874.7 237.8 L873.6 237.7 L873.6 235.3 L872.8 234.5 L874.0 231.3Z M883.1 228.8 L884.2 229.4 L884.0 231.8 L883.3 230.6Z M883.6 234.7 L886.6 234.7 L886.8 235.4 L883.6 235.3Z M887.2 232.1 L890.7 232.1 L891.0 234.1 L892.5 235.1 L894.9 233.1 L899.0 234.3 L903.1 235.7 L904.6 237.7 L906.7 238.3 L906.1 239.2 L910.2 243.4 L907.2 243.1 L904.9 240.6 L902.5 240.3 L901.3 241.8 L899.0 241.9 L896.6 240.6 L895.4 241.0 L895.4 239.5 L896.6 239.7 L896.0 237.7 L891.9 236.4 L889.5 235.9 L889.3 234.5 L890.7 233.8 L888.4 233.8Z M907.8 237.8 L909.6 237.1 L912.0 236.2 L912.3 237.1 L910.2 238.5 L908.4 238.6Z M866.5 257.2 L867.1 256.9 L869.5 255.7 L873.0 254.8 L876.0 253.6 L876.9 251.5 L878.6 250.7 L880.1 248.9 L881.9 247.7 L883.6 248.9 L885.4 248.8 L886.6 245.9 L889.0 245.4 L889.0 244.5 L891.9 245.6 L894.0 245.4 L893.1 247.1 L892.5 248.9 L894.9 250.1 L897.2 251.8 L898.7 251.8 L899.6 248.9 L899.8 245.9 L900.8 243.9 L901.9 245.9 L902.2 248.1 L904.1 248.9 L904.9 253.0 L907.8 255.0 L910.5 258.3 L913.1 261.3 L913.7 264.2 L913.1 267.8 L911.4 270.7 L909.8 274.3 L909.4 275.4 L906.7 276.0 L905.2 277.2 L903.1 276.3 L901.9 277.0 L899.0 276.3 L897.8 275.4 L896.0 272.5 L895.4 270.1 L894.3 271.9 L893.1 272.5 L892.5 272.1 L890.7 269.9 L887.8 268.4 L884.8 268.5 L881.3 269.3 L878.9 270.1 L878.3 271.2 L874.2 271.2 L871.8 272.5 L869.5 272.4 L868.3 271.6 L868.9 269.0 L868.3 266.6 L867.1 263.6 L866.2 261.9 L866.9 259.5Z M903.3 279.2 L905.5 279.6 L907.6 279.5 L907.5 281.0 L906.7 282.3 L904.9 282.5 L903.9 281.0Z M936.4 271.8 L938.3 272.9 L939.7 274.3 L942.6 275.6 L943.0 276.6 L941.5 277.6 L941.2 279.0 L939.5 280.3 L938.7 279.9 L939.1 278.4 L937.7 277.6 L938.7 276.0 L938.5 274.3 L936.7 272.5Z M936.4 279.0 L938.2 280.2 L936.7 281.9 L936.5 282.9 L934.7 283.5 L934.0 285.2 L932.6 286.2 L930.2 285.7 L929.1 285.2 L931.2 283.1 L933.8 281.9 L935.0 280.5Z M926.1 255.0 L927.9 256.0 L929.7 257.5 L929.1 257.6 L926.7 256.0Z M959.2 153.8 L961.5 150.6 L965.1 149.8 L972.7 147.1 L980.4 148.0 L991.0 149.0 L998.1 149.4 L1006.4 148.4 L1009.9 149.2 L1014.6 148.8 L1021.7 150.6 L1028.8 151.2 L1030.0 150.4 L1037.0 151.0 L1041.8 150.4 L1044.1 151.6 L1044.7 149.8 L1046.5 146.5 L1048.8 149.2 L1051.2 150.3 L1053.6 151.0 L1055.9 149.2 L1060.6 149.2 L1061.5 150.4 L1060.6 152.7 L1055.9 153.0 L1054.7 154.5 L1053.6 155.7 L1048.8 156.3 L1045.9 159.8 L1045.9 161.8 L1048.2 163.9 L1052.4 164.5 L1057.1 165.9 L1060.3 166.3 L1060.6 168.7 L1061.8 169.8 L1063.6 170.4 L1064.2 169.2 L1064.4 166.9 L1066.5 165.1 L1067.1 163.3 L1064.8 161.9 L1066.0 159.8 L1065.4 157.7 L1070.1 157.7 L1074.8 159.2 L1075.4 161.6 L1077.8 162.4 L1080.7 160.4 L1081.3 160.0 L1084.2 162.8 L1085.4 165.1 L1089.0 166.9 L1091.3 168.1 L1091.7 169.8 L1090.1 170.4 L1086.6 172.0 L1081.9 171.8 L1078.9 172.0 L1075.4 174.6 L1073.6 175.9 L1077.2 174.0 L1080.7 173.1 L1081.5 174.0 L1080.1 175.1 L1081.3 176.7 L1085.4 177.5 L1082.5 178.6 L1079.8 179.8 L1079.3 178.7 L1081.3 177.5 L1078.3 178.1 L1076.0 179.3 L1074.6 179.8 L1073.9 181.0 L1074.8 181.9 L1073.0 182.3 L1070.1 183.3 L1069.8 184.6 L1068.5 185.8 L1067.7 187.5 L1068.1 189.5 L1066.5 190.5 L1064.2 191.9 L1061.8 193.4 L1061.5 195.4 L1062.6 198.8 L1062.9 201.1 L1061.8 201.5 L1060.6 199.9 L1059.8 198.2 L1059.5 196.7 L1058.3 195.8 L1056.5 196.0 L1054.2 195.4 L1052.4 195.6 L1052.0 196.7 L1050.0 196.6 L1046.7 196.2 L1045.3 196.7 L1042.9 198.4 L1042.6 200.5 L1042.0 204.1 L1042.7 206.4 L1043.8 208.4 L1045.9 209.7 L1048.8 209.3 L1050.4 208.2 L1050.8 206.4 L1053.6 205.8 L1054.7 205.9 L1054.2 208.2 L1053.6 209.4 L1053.2 211.1 L1052.6 212.4 L1055.9 212.4 L1058.3 212.6 L1059.1 213.5 L1058.9 216.4 L1058.6 218.2 L1060.0 220.2 L1061.8 220.8 L1063.6 220.0 L1066.0 220.9 L1066.5 221.8 L1068.3 218.6 L1070.1 218.0 L1072.4 217.0 L1073.0 218.2 L1074.8 217.3 L1077.2 218.6 L1081.3 219.0 L1084.2 218.6 L1085.4 220.0 L1086.6 221.2 L1089.5 223.8 L1093.7 224.4 L1096.6 225.9 L1098.4 229.4 L1098.4 231.2 L1100.8 232.1 L1104.9 234.1 L1108.4 234.6 L1112.0 235.7 L1115.7 237.5 L1116.2 240.6 L1113.7 244.2 L1111.4 247.1 L1111.4 251.8 L1109.6 256.0 L1107.8 258.3 L1104.9 258.7 L1101.9 260.3 L1100.2 261.9 L1099.8 264.8 L1097.2 267.8 L1095.5 270.1 L1094.0 271.9 L1090.7 272.4 L1088.5 271.3 L1090.1 274.3 L1089.3 276.3 L1084.2 277.2 L1083.7 279.6 L1080.7 279.6 L1082.1 281.3 L1080.3 284.3 L1077.8 285.5 L1079.8 287.2 L1076.6 290.8 L1076.0 292.9 L1076.8 293.1 L1073.6 294.7 L1069.5 293.1 L1068.3 289.0 L1068.3 286.1 L1070.7 283.1 L1070.1 280.8 L1070.7 277.8 L1071.0 274.9 L1072.8 270.7 L1073.0 266.6 L1074.2 261.9 L1074.4 256.0 L1074.4 252.8 L1072.4 251.3 L1068.9 249.3 L1067.1 247.1 L1066.0 244.8 L1064.2 240.6 L1062.4 238.3 L1061.5 236.5 L1062.6 235.1 L1063.0 233.9 L1061.8 232.4 L1063.0 230.6 L1064.2 229.4 L1065.4 228.2 L1066.2 226.5 L1066.0 223.5 L1066.0 222.3 L1064.8 221.2 L1063.0 222.6 L1061.2 221.8 L1059.5 221.4 L1057.1 219.4 L1056.2 218.2 L1054.2 215.9 L1051.8 215.3 L1049.4 214.7 L1047.1 212.9 L1045.9 212.1 L1043.5 212.7 L1040.6 211.5 L1037.6 210.5 L1035.3 209.5 L1032.9 207.6 L1033.1 205.8 L1031.7 203.7 L1029.4 201.3 L1028.2 199.7 L1026.4 198.2 L1024.7 196.4 L1023.8 194.4 L1021.9 193.8 L1022.2 195.8 L1024.1 198.2 L1025.8 200.5 L1027.2 202.6 L1028.2 203.8 L1027.4 204.1 L1025.2 201.7 L1025.0 200.3 L1022.9 198.8 L1021.9 198.2 L1022.6 197.2 L1020.8 195.2 L1019.3 192.8 L1017.6 191.1 L1015.2 190.5 L1013.7 188.1 L1012.9 186.6 L1011.3 184.6 L1010.7 183.5 L1011.0 180.5 L1011.1 176.9 L1010.3 174.2 L1012.9 175.1 L1012.5 173.4 L1010.5 172.2 L1007.5 171.0 L1006.6 169.5 L1004.0 167.1 L1002.8 165.7 L1000.5 163.9 L998.7 162.4 L996.3 162.5 L994.6 161.6 L992.2 160.6 L988.1 160.4 L985.1 159.5 L982.2 160.2 L978.6 161.2 L978.0 159.5 L980.4 159.0 L978.0 159.8 L976.3 161.2 L975.1 162.5 L972.1 164.2 L968.6 165.6 L965.1 166.5 L966.8 165.1 L970.4 163.3 L971.9 161.8 L968.6 161.9 L966.2 161.3 L966.2 160.4 L962.7 159.5 L961.5 158.3 L963.3 156.9 L967.4 156.3 L967.4 155.1 L965.1 155.1 L961.5 154.7Z M1076.6 293.5 L1080.5 295.9 L1076.6 296.7 L1073.0 295.3 L1074.2 294.3Z M1057.2 205.4 L1059.5 204.1 L1062.4 203.9 L1066.5 205.8 L1069.8 207.4 L1066.0 207.7 L1065.4 206.8 L1063.0 205.6 L1060.6 204.9Z M1069.6 209.4 L1071.3 207.7 L1074.8 207.8 L1076.7 209.3 L1074.2 209.7 L1072.4 209.8Z M1065.0 209.5 L1067.4 209.5 L1067.1 210.1 L1065.4 210.1Z M1078.1 209.4 L1079.9 209.5 L1079.8 210.0 L1078.1 210.0Z M1087.4 174.9 L1089.5 171.6 L1091.7 170.4 L1091.9 172.2 L1094.3 173.0 L1095.1 175.1 L1093.7 176.0 L1091.3 175.7 L1089.5 175.0Z M1006.0 171.3 L1009.5 171.8 L1011.7 174.0 L1009.9 173.7 L1007.0 172.2Z M1063.0 144.2 L1067.7 145.3 L1073.6 147.1 L1077.2 148.2 L1078.3 149.8 L1084.2 152.1 L1081.9 153.9 L1079.5 153.0 L1080.7 156.3 L1077.2 157.4 L1073.6 155.9 L1070.1 155.1 L1065.4 154.5 L1070.7 152.7 L1071.3 150.7 L1066.5 148.8 L1064.2 148.6 L1058.3 148.6 L1052.4 147.4 L1051.8 145.1 L1057.1 144.1Z M1019.3 146.8 L1024.1 145.6 L1030.0 145.1 L1033.5 145.3 L1037.0 148.6 L1033.5 150.0 L1027.6 150.1 L1021.7 149.4 L1018.8 148.4Z M1009.9 146.2 L1013.4 143.5 L1018.8 143.6 L1020.5 145.1 L1015.8 146.8 L1011.7 147.1Z M1051.2 140.9 L1063.0 141.2 L1066.5 139.2 L1071.3 138.0 L1079.5 135.6 L1084.2 133.8 L1074.8 133.1 L1060.6 133.7 L1048.8 135.3 L1053.6 136.8 L1055.9 138.6 L1052.4 139.8Z M1044.1 142.1 L1048.8 143.2 L1058.3 143.3 L1063.0 142.7 L1061.8 141.5 L1052.4 141.2 L1044.1 140.9Z M1019.3 142.3 L1025.2 143.3 L1032.3 142.7 L1032.3 141.5 L1027.6 140.9 L1020.5 141.2Z M1044.7 146.0 L1050.6 146.0 L1051.2 144.1 L1045.3 143.9Z M1037.0 146.8 L1042.9 146.8 L1042.9 144.5 L1038.2 144.1Z M1044.1 139.2 L1053.6 138.8 L1054.7 136.4 L1047.7 135.6 L1044.1 136.8Z M1054.7 156.3 L1060.6 155.9 L1062.4 155.1 L1058.3 153.6 L1055.3 153.9Z M975.1 163.7 L977.7 163.3 L977.5 162.5 L975.9 162.9Z M973.3 208.8 L974.5 208.1 L973.6 207.4Z" fill="none" stroke="#000" stroke-width="0.85" stroke-linejoin="round"/>
<path d="M788.1 178.1 L791.0 176.3 L793.4 176.0 L795.1 176.3 L795.1 178.1 L792.8 178.7 L792.0 178.9 L793.4 180.2 L794.8 181.0 L794.6 182.2 L796.1 183.1 L795.1 184.6 L796.1 187.5 L794.0 187.9 L791.8 187.2 L790.4 186.7 L790.4 184.9 L791.0 183.4 L789.8 181.9 L788.7 180.5 L788.1 179.3Z M765.6 182.2 L765.6 180.0 L766.5 178.7 L768.0 177.5 L768.8 176.4 L770.1 176.2 L772.1 176.9 L771.0 177.7 L772.4 178.8 L774.3 178.1 L775.7 177.7 L773.9 176.7 L776.9 175.7 L778.6 175.5 L776.9 176.9 L776.6 177.7 L777.4 178.8 L779.6 179.9 L781.6 180.8 L781.6 182.2 L779.8 182.8 L777.4 182.8 L775.1 182.5 L773.9 181.6 L772.1 181.6 L769.2 182.7 L766.8 182.6Z M801.6 176.3 L804.6 176.3 L804.6 178.7 L802.2 179.6 L801.4 178.1Z M855.3 170.3 L857.7 169.8 L860.6 168.1 L862.4 165.6 L861.2 165.7 L859.5 168.3 L857.1 169.8Z M770.4 230.8 L772.7 230.8 L772.7 234.1 L770.4 234.1Z M1048.8 176.0 L1053.6 174.0 L1057.1 174.8 L1057.7 176.3 L1054.7 176.3 L1050.6 176.2Z M1053.8 181.6 L1054.2 177.5 L1056.5 176.9 L1057.1 177.5 L1055.6 179.9 L1055.0 181.9Z M1057.7 176.9 L1061.2 176.9 L1063.0 178.7 L1061.0 180.2 L1059.1 179.3 L1059.1 177.7Z M1059.1 182.0 L1061.8 181.9 L1064.2 180.8 L1062.4 180.9Z M1063.4 180.1 L1067.4 179.8 L1067.1 179.0 L1064.2 179.5Z" fill="#fff" stroke="#000" stroke-width="0.45" stroke-linejoin="round"/>
<path d="M697.2 320.9 L706.6 317.3 L718.4 315.0 L732.6 313.6 L744.4 313.8 L756.2 313.8 L768.0 313.2 L775.1 312.6 L779.8 312.0 L785.7 310.8 L791.6 309.7 L796.3 309.0 L801.0 310.3 L805.8 310.8 L810.5 311.2 L814.0 312.0 L816.4 312.6 L819.9 313.2 L824.6 312.0 L829.4 310.6 L836.4 310.0 L843.5 309.7 L850.6 309.1 L857.7 309.7 L864.8 309.1 L871.8 310.0 L878.9 309.7 L886.0 309.3 L893.1 309.4 L900.2 310.0 L904.9 311.2 L912.0 312.0 L919.0 313.0 L923.8 314.4 L928.5 315.6 L933.2 316.2 L930.8 318.5 L926.1 320.9 L924.9 322.6 L928.5 323.6 L935.6 323.2 L945.0 323.5 L956.8 323.8 L968.6 323.2 L974.5 321.8 L982.8 320.9 L994.6 319.5 L1006.4 319.1 L1018.2 318.5 L1027.6 317.9 L1034.7 317.3 L1038.2 318.5 L1041.8 317.1 L1048.8 317.6 L1058.3 317.3 L1065.4 317.3 L1072.4 316.2 L1076.0 313.2 L1078.3 310.8 L1081.9 308.5 L1085.4 306.7 L1089.5 305.8 L1090.1 307.3 L1086.6 308.8 L1084.2 310.8 L1083.1 313.8 L1084.2 316.8 L1085.4 319.1 L1089.0 320.9 L1098.4 322.6 L1112.6 323.2 L1122.0 323.2 L1122.0 339.8 L697.2 339.8Z" fill="none" stroke="#000" stroke-width="0.8" stroke-linejoin="round"/>
<path d="M903.2 213.5h1 M904.0 210.0h1 M890.8 222.3h1 M894.9 220.0h1 M911.2 222.5h1 M918.8 223.1h1 M924.4 224.9h1 M930.0 220.9h1 M934.1 222.8h1 M936.2 229.5h1 M938.0 231.8h1 M939.8 233.6h1 M943.3 241.2h1 M929.0 231.8h1 M930.7 252.1h1 M932.1 254.2h1 M953.4 247.2h1 M954.5 247.6h1 M950.2 256.2h1 M951.6 253.3h1 M968.3 256.2h1 M980.5 252.0h1 M978.1 250.9h1 M991.7 241.8h1 M992.9 242.8h1 M985.8 250.1h1 M988.2 251.8h1 M996.4 256.6h1 M971.2 229.0h1 M968.7 205.2h1 M970.5 205.8h1 M971.6 206.4h1 M949.2 246.9h1 M942.1 250.7h1 M943.9 251.0h1 M1003.4 260.8h1 M1027.8 263.2h1 M1049.5 231.8h1 M1050.3 232.1h1 M800.0 255.0h1 M797.6 256.1h1 M818.2 226.5h1 M818.5 231.2h1 M817.5 239.8h1 M702.0 186.6h1 M699.1 185.8h1 M712.6 197.8h1 M713.7 198.2h1 M712.0 192.6h1 M703.8 212.3h1 M704.4 213.5h1 M739.9 230.8h1 M797.6 236.6h1 M1080.6 193.1h1 M1065.5 201.7h1 M1064.9 202.5h1 M1067.2 203.5h1 M1070.2 206.4h1 M1084.3 212.1h1 M1084.9 214.0h1 M1084.9 215.6h1 M845.4 245.4h1 M856.8 243.6h1 M776.7 286.5h1 M793.1 286.0h1 M823.6 275.8h1 M1113.8 295.3h1 M700.8 300.1h1 M725.4 250.1h1 M715.1 240.5h1 M720.3 278.8h1 M717.6 275.0h1" stroke="#000" stroke-width="1" fill="none"/>
<path d="M696.7 132.1 L703.1 132.9 L711.4 134.4 L718.4 135.0 L712.5 136.8 L709.0 138.6 L710.8 140.9 L707.8 142.7 L709.6 144.5 L705.5 145.6 L706.6 148.0 L701.9 149.2 L696.7 150.7Z M745.6 137.4 L749.1 140.1 L752.7 140.7 L757.4 138.8 L764.5 136.8 L756.2 136.3 L749.1 136.9Z M788.1 136.6 L795.1 135.9 L803.4 135.6 L806.9 136.1 L799.9 136.8 L791.6 136.9Z M844.7 138.0 L850.6 137.6 L855.9 138.2 L850.6 139.2 L847.1 138.8Z M841.2 136.8 L847.1 135.6 L849.4 136.4 L844.7 137.2Z M894.3 142.1 L899.0 141.5 L903.7 142.1 L901.3 142.9 L896.6 143.1Z M905.5 142.2 L910.2 142.5 L909.6 142.9 L906.1 142.8Z M1012.3 141.5 L1017.0 141.8 L1021.1 140.3 L1017.6 139.8 L1012.9 140.6Z M1034.7 142.3 L1041.8 142.7 L1042.3 141.2 L1038.2 140.7 L1034.7 141.3Z M1043.5 143.1 L1047.1 143.1 L1047.1 142.1 L1043.5 142.1Z M1033.5 139.4 L1039.4 139.4 L1040.6 138.2 L1035.3 137.6 L1032.9 138.5Z M1042.3 139.4 L1045.3 139.4 L1045.9 138.5 L1042.9 138.2Z M1022.9 140.0 L1027.6 140.1 L1027.6 139.2 L1023.5 139.0Z M1023.5 138.8 L1027.6 138.8 L1028.2 138.1 L1024.1 138.0Z M1062.4 145.1 L1066.5 145.6 L1067.7 144.8 L1064.2 144.1Z M1044.1 142.1 L1048.8 143.2 L1058.3 143.3 L1063.0 142.7 L1061.8 141.5 L1052.4 141.2 L1044.1 140.9Z M1019.3 142.3 L1025.2 143.3 L1032.3 142.7 L1032.3 141.5 L1027.6 140.9 L1020.5 141.2Z M1044.7 146.0 L1050.6 146.0 L1051.2 144.1 L1045.3 143.9Z M1037.0 146.8 L1042.9 146.8 L1042.9 144.5 L1038.2 144.1Z M1044.1 139.2 L1053.6 138.8 L1054.7 136.4 L1047.7 135.6 L1044.1 136.8Z M1009.9 146.2 L1013.4 143.5 L1018.8 143.6 L1020.5 145.1 L1015.8 146.8 L1011.7 147.1Z M1019.3 146.8 L1024.1 145.6 L1030.0 145.1 L1033.5 145.3 L1037.0 148.6 L1033.5 150.0 L1027.6 150.1 L1021.7 149.4 L1018.8 148.4Z M1051.2 140.9 L1063.0 141.2 L1066.5 139.2 L1071.3 138.0 L1079.5 135.6 L1084.2 133.8 L1074.8 133.1 L1060.6 133.7 L1048.8 135.3 L1053.6 136.8 L1055.9 138.6 L1052.4 139.8Z M1040.0 149.8 L1044.1 150.4 L1044.7 149.2 L1042.3 148.6Z M793.4 146.6 L795.7 147.7 L800.5 147.8 L798.1 145.6 L801.0 143.9 L804.6 142.3 L813.4 140.8 L810.5 140.3 L803.4 141.2 L798.1 142.5 L795.1 144.5Z" fill="none" stroke="#000" stroke-width="1.5" stroke-linejoin="round"/>
<path d="M730.2 189.9 L730.8 193.4 L728.5 194.6 L726.1 196.4 L722.3 197.3 L722.3 199.0 M722.3 198.6 L717.3 198.5 M722.3 199.0 L722.3 200.5 L718.4 200.5 L718.4 203.5 L717.3 204.1 L717.3 206.1 L712.5 206.1 M722.3 199.0 L726.9 201.7 L734.0 206.3 L736.5 208.8 L737.6 208.7 L739.7 208.2 L741.5 206.7 L746.8 203.5 L744.4 202.3 L743.8 200.2 L744.4 199.3 L744.2 197.8 L743.8 195.6 L741.5 191.7 L742.4 190.3 L742.7 187.7 M743.8 195.6 L744.8 193.8 L746.2 192.0 M726.9 201.7 L724.9 201.8 L726.1 211.7 L726.1 212.9 L719.6 213.1 L718.2 213.7 L715.5 211.6 L713.1 212.3 M746.8 203.5 L749.4 204.5 L750.3 204.1 L760.9 208.2 L760.9 207.6 L762.1 207.6 L762.1 205.2 L762.1 193.9 M762.1 205.2 L776.1 205.2 M750.3 204.1 L750.9 206.4 L751.0 210.0 L750.9 211.3 L748.5 214.1 L748.5 215.0 M737.6 208.7 L737.6 211.7 L736.7 212.9 L733.8 213.5 L732.8 213.5 L730.2 214.4 L727.9 215.6 L726.1 217.6 L726.1 218.9 L729.3 219.4 L729.3 218.2 L732.6 218.2 L733.8 218.1 L735.2 217.2 L735.4 216.7 L736.8 217.4 M732.8 213.5 L735.2 217.0 M736.8 217.4 L737.3 215.3 L740.9 215.9 L743.2 216.1 L746.8 215.6 L748.5 215.0 L749.7 216.2 L749.1 217.6 L747.7 221.2 L746.2 223.4 L744.4 223.1 L742.7 225.5 M760.9 208.2 L760.9 212.7 L759.2 214.7 L759.2 216.2 L759.6 218.2 L760.3 219.6 L758.6 218.3 L755.0 220.6 L750.9 222.3 L749.7 225.3 L751.5 228.8 L748.3 228.6 L745.9 228.6 L744.2 228.5 M749.7 216.2 L750.5 219.4 L750.9 222.3 M760.3 219.6 L760.9 220.9 L764.5 219.9 L766.8 219.4 L770.4 217.0 L771.8 216.8 L771.5 219.4 L772.7 220.0 L773.9 218.2 L775.3 216.4 L775.7 214.3 L778.0 210.0 M775.7 214.3 L779.8 214.1 L782.6 216.4 M783.2 218.2 L783.3 220.0 L785.7 220.8 L789.2 221.8 L785.7 225.3 L782.2 226.2 L781.0 226.6 L778.6 227.1 L775.7 226.0 L773.9 224.9 L772.7 226.2 L773.3 230.0 L772.7 232.4 L777.0 234.7 L778.9 236.7 M781.0 226.6 L781.0 233.1 M772.7 220.0 L771.5 222.0 L773.9 224.9 M760.9 220.9 L765.1 225.3 L769.2 226.8 L772.7 226.2 M769.2 226.8 L768.0 230.0 L767.5 232.9 L766.8 234.4 L767.2 236.4 L767.4 238.9 L768.9 241.0 M767.5 232.9 L768.9 232.4 L772.7 232.4 M765.1 225.3 L759.2 226.4 L754.5 227.1 L753.8 228.8 L753.6 231.8 L751.5 233.6 L751.5 236.3 L747.9 236.7 L746.8 237.1 M751.5 228.8 L753.8 228.8 M745.9 228.6 L745.9 230.0 L743.9 230.0 M748.3 228.6 L749.6 233.0 L749.6 233.9 L746.4 235.8 M747.1 238.3 L752.1 238.2 L752.7 240.0 L755.6 240.0 L758.3 239.8 L758.6 244.2 L760.9 244.2 L760.9 245.7 L758.6 246.5 L758.6 250.3 L760.2 252.0 M760.9 244.8 L764.5 245.4 L767.4 247.0 L766.3 245.4 L766.2 242.1 L768.9 241.0 L771.4 242.3 L772.7 242.4 L773.7 244.8 L776.9 245.0 L780.3 243.6 M746.5 251.6 L749.1 251.7 L754.4 251.7 L760.2 252.0 L762.5 252.2 L764.5 252.3 L766.7 250.1 L768.5 249.6 L771.4 250.9 L771.3 254.2 L770.8 256.3 L769.5 257.6 L767.2 257.4 L764.5 259.0 L762.7 261.4 L759.2 261.9 L756.2 260.5 M757.4 252.8 L757.4 257.2 L756.2 257.2 L756.2 264.7 L752.1 264.9 M762.5 252.2 L763.3 254.2 L765.3 255.4 L767.2 257.4 M769.5 257.6 L770.4 260.1 L770.4 262.8 L771.4 262.9 M768.5 249.6 L768.2 248.7 L771.8 247.7 L771.5 245.9 L771.9 243.9 L771.4 242.3 M773.7 244.8 L773.4 248.3 L775.0 250.0 L774.3 251.4 L773.1 250.1 L773.3 248.3 L771.8 247.7 M765.1 266.0 L766.8 265.2 L767.4 266.2 L765.9 267.3 L764.7 266.6 M714.9 218.2 L716.4 216.3 L719.1 216.6 L720.0 217.2 L722.6 218.2 L723.2 219.2 L723.5 221.3 L722.6 222.2 L721.5 222.5 L720.4 221.2 L719.0 222.9 M712.9 216.6 L714.9 216.2 L716.4 216.3 M719.1 216.6 L718.2 213.7 M717.0 220.6 L717.9 219.5 L719.6 219.4 L720.4 221.2 M723.8 226.0 L722.6 222.2 M723.2 219.2 L726.1 218.9 M729.2 225.2 L729.4 220.0 L729.3 218.2 M734.0 224.0 L733.2 221.2 L732.6 218.2 M734.5 223.9 L734.5 220.6 L733.8 218.1 M735.8 223.8 L735.9 220.6 L736.8 217.4 M722.1 181.8 L725.3 182.1 L724.3 184.4 L723.9 187.3 M730.5 180.1 L736.4 181.2 M735.6 170.9 L739.7 172.8 L742.3 173.4 L741.6 175.0 L739.7 176.7 L740.9 177.0 L740.9 179.3 L741.5 179.5 M739.7 172.8 L739.7 171.3 L740.9 169.6 L741.1 168.3 M736.6 170.5 L739.7 171.0 M742.9 166.4 L743.8 166.5 M749.4 167.6 L749.9 171.0 L746.8 171.8 L748.9 173.7 L747.9 175.1 L743.9 175.1 L741.6 175.0 M749.9 171.0 L752.7 171.8 L755.0 172.8 M748.9 173.7 L752.7 174.6 M739.7 176.7 L742.6 176.9 L744.9 176.0 L743.9 175.1 M744.9 176.0 L747.0 175.7 L748.8 176.3 M756.0 167.0 L759.5 167.0 L760.8 169.2 L760.9 171.3 L759.4 173.1 L755.0 172.8 L752.7 174.6 L751.6 175.9 L748.8 176.3 L748.6 177.3 M759.5 167.0 L762.7 167.2 L764.0 165.5 L765.6 165.1 M757.4 165.0 L762.1 164.8 L764.0 165.5 M761.3 162.9 L765.1 163.3 M751.6 175.9 L754.8 177.0 L756.6 176.8 L758.8 174.7 L759.4 173.1 M758.8 174.7 L762.0 174.9 L764.0 174.2 L765.9 176.0 L765.9 177.5 L767.6 177.7 M756.6 176.8 L758.0 177.9 L759.2 178.7 L759.4 179.5 L764.5 179.2 L766.3 179.6 M754.8 177.0 L755.0 178.2 L755.7 179.3 L755.3 179.9 L756.6 180.7 L759.0 181.3 L759.4 179.5 M748.8 177.9 L750.7 177.5 L752.1 176.4 M751.2 177.9 L753.5 180.5 L754.4 181.0 M751.2 177.9 L755.0 178.2 M755.5 181.9 L756.8 181.4 L757.0 182.8 L756.2 184.4 M757.0 182.8 L759.7 182.5 L763.6 182.0 L764.0 182.6 L763.3 183.2 M759.0 181.3 L759.7 182.5 M763.6 182.0 L765.6 181.6 M765.6 161.0 L765.1 163.3 L765.6 165.1 L769.2 166.3 L771.0 168.3 L769.8 169.7 L772.7 169.5 L774.5 171.7 L777.4 172.3 L779.8 172.7 L779.4 174.7 L777.7 175.6 M760.8 169.2 L760.4 170.3 L764.5 170.4 L768.6 170.5 L769.8 169.7 M765.4 159.8 L768.0 157.4 L769.8 156.9 L767.8 154.5 L768.0 151.3 L766.6 149.8 M761.0 153.6 L760.3 151.6 L756.9 149.8 L753.8 150.4 L750.3 153.3 L749.1 155.1 L747.0 156.3 L747.0 159.2 L747.4 160.4 L746.2 161.6 M756.9 149.8 L763.0 149.2 L766.6 149.8 M790.4 176.6 L788.1 174.3 L788.1 172.2 L792.8 170.4 L797.5 171.0 L802.2 171.4 L805.2 168.7 L809.3 166.9 L814.0 165.9 L816.4 167.2 L819.9 168.0 L822.9 167.2 L827.0 171.0 L830.5 171.0 L833.5 172.7 L835.6 173.1 L841.2 171.4 L848.2 169.8 L853.0 170.5 L853.3 171.6 L858.9 172.2 L862.4 173.1 L867.1 172.0 L870.3 172.4 L873.6 171.8 L875.4 168.3 L880.1 168.7 L883.1 172.2 L886.6 173.6 L891.9 174.1 L889.5 178.1 L887.2 178.3 L887.2 180.5 L886.7 181.2 M836.2 173.1 L840.0 177.9 L845.3 179.0 L846.5 180.8 L851.8 180.9 L856.5 182.1 L862.4 180.9 L864.8 179.5 L864.8 178.1 L868.9 177.6 L870.1 176.3 L874.0 176.1 L871.2 174.8 L869.2 174.6 L870.3 172.4 M835.6 173.1 L833.7 174.1 L830.5 175.5 L830.0 177.7 L827.6 178.1 L827.2 181.4 L823.5 182.8 L819.4 184.6 L819.7 185.8 L821.0 187.3 L824.6 189.3 L825.8 192.8 L828.2 195.6 L831.7 197.2 L836.4 198.3 L837.6 199.0 L840.8 198.4 L843.5 197.0 L847.4 197.9 L849.1 198.8 L848.2 201.7 L847.8 202.9 L849.4 205.2 L850.8 205.8 L852.6 206.2 L853.2 204.8 L855.3 204.4 L857.7 204.2 L860.0 205.8 M828.2 195.6 L827.2 197.2 L831.7 198.9 L836.6 200.0 L836.4 198.3 M837.6 199.0 L837.6 199.7 L841.2 199.5 L840.8 198.4 M813.1 203.2 L816.4 202.3 L815.2 198.4 L818.2 196.4 L820.5 194.6 L819.9 192.3 L822.3 189.9 L824.4 189.3 M837.6 205.5 L836.7 202.3 L837.0 200.2 L838.6 200.5 L841.5 201.7 L840.3 202.9 L840.6 204.1 L841.8 205.8 M841.5 206.8 L842.7 204.1 L844.2 201.3 L847.1 198.4 M848.9 219.4 L849.7 217.0 L848.6 213.5 L847.9 210.5 L849.3 208.0 L850.8 207.1 L851.8 210.4 L853.3 210.0 L855.3 209.6 L856.3 211.7 L857.2 214.1 L854.1 214.4 L853.4 216.4 L854.0 217.4 M850.8 205.8 L850.8 207.1 M853.2 204.8 L855.9 207.0 L855.3 208.2 L857.1 209.6 L859.5 213.1 L859.5 214.1 L859.5 216.7 L857.7 217.9 L855.9 218.9 M857.2 214.1 L859.5 214.1 M850.8 223.5 L851.8 224.5 L853.1 223.9 M861.9 228.8 L863.6 230.0 L865.9 229.5 L868.1 228.5 L868.9 226.2 L871.2 226.2 M899.0 234.3 L899.0 241.9 M879.3 184.0 L882.1 182.0 L883.9 182.3 L886.7 181.2 M881.4 186.6 L884.0 185.7 M775.1 188.4 L777.4 187.7 L782.2 187.3 L785.5 187.3 L784.5 184.7 L785.5 184.4 M785.5 187.3 L786.9 189.3 L786.3 191.1 L789.0 194.0 L789.8 195.8 M789.2 196.4 L787.5 196.9 L785.3 196.7 L779.8 193.4 L778.6 193.2 L776.3 194.0 L773.9 196.5 M782.5 187.4 L781.0 190.6 L778.4 191.8 L775.1 192.8 L774.6 192.0 M778.6 193.2 L778.4 191.8 M774.5 192.8 L774.5 194.6 L773.9 196.4 M775.1 190.4 L775.8 190.8 L774.8 191.9 M783.3 211.7 L788.1 211.1 L794.0 208.8 L797.5 207.6 L798.2 205.2 L797.7 204.4 L794.6 204.2 L793.4 202.4 M794.0 208.8 L795.1 211.6 M798.2 205.2 L798.7 201.8 M781.6 182.2 L783.9 182.7 L785.7 182.5 L787.5 181.9 L789.8 181.9 M779.8 179.9 L783.3 180.9 L787.5 181.9 M783.9 182.7 L785.5 184.4 L787.5 185.3 L789.2 184.6 L790.2 185.9 M804.8 189.2 L804.0 191.7 L804.3 194.0 L805.5 194.6 L804.5 196.0 L806.4 196.5 L807.2 199.1 L805.3 201.5 M796.2 187.2 L799.9 186.1 L803.4 187.8 L804.8 189.2 L808.7 188.4 L811.1 187.1 L814.6 187.3 L817.0 187.8 L821.0 187.3 M804.5 196.0 L810.8 196.0 L814.6 192.3 L816.4 191.1 L817.1 188.2 L821.0 187.3 M794.6 181.9 L798.7 182.5 L798.7 178.1 L801.7 177.5 L804.6 178.9 L808.1 179.8 L810.5 180.6 L812.8 182.8 L815.2 181.6 L816.4 181.3 L819.9 180.2 L827.2 181.4 M798.7 182.5 L801.6 180.9 L803.4 181.9 L805.8 184.0 L811.1 187.1 M812.8 182.8 L815.8 183.8 L819.4 184.6 M815.8 183.8 L812.6 184.6 L812.8 187.3 M816.4 181.3 L815.8 182.9 L819.4 184.6 M991.0 149.0 L991.0 160.0 L995.2 161.7 L998.1 161.0 L999.9 162.2 L1004.0 165.1 L1003.8 166.5 M1012.3 173.4 L1045.3 173.4 L1051.8 174.6 L1057.7 176.3 L1060.0 177.7 L1060.0 180.5 L1064.2 180.2 L1067.1 179.3 L1069.3 178.1 L1073.0 178.1 L1074.8 176.3 L1076.0 175.3 L1077.4 175.7 L1078.1 177.9 M1019.2 192.8 L1022.1 192.6 L1026.4 194.3 L1029.7 194.3 L1029.7 193.7 L1031.7 193.7 L1034.1 196.3 L1035.9 197.0 L1037.6 196.0 L1040.0 198.8 L1042.7 200.6 M1048.6 214.1 L1049.4 212.3 L1050.6 212.2 L1050.0 210.8 L1052.1 210.2 L1052.1 212.4 L1053.2 212.7 M1052.1 210.2 L1053.2 209.4 M1051.1 214.9 L1052.0 214.2 L1053.9 214.9 L1053.8 215.5 M1052.0 214.2 L1052.1 212.4 M1054.4 215.9 L1055.9 214.7 L1059.2 213.5 M1056.3 218.1 L1058.6 218.3 M1059.6 221.6 L1059.9 220.0 M1072.8 209.6 L1072.7 208.0 M1073.0 217.3 L1071.8 218.8 L1071.8 221.8 L1074.8 222.9 L1077.8 223.9 L1078.3 229.8 L1075.0 229.9 L1074.9 236.2 M1064.4 229.5 L1068.3 231.3 L1068.7 232.4 L1071.3 233.9 L1074.8 236.2 L1074.9 236.2 M1062.6 235.2 L1063.8 237.0 L1065.0 235.2 L1068.2 231.3 M1074.9 236.2 L1071.5 237.3 L1070.3 239.8 L1071.8 242.4 L1074.2 242.4 L1074.1 244.2 L1075.4 244.2 L1080.3 242.8 L1080.7 245.4 L1086.0 247.4 L1086.6 250.3 L1088.6 250.4 L1089.0 251.8 L1089.4 252.4 L1089.0 254.6 L1089.2 257.3 L1091.7 257.5 L1093.3 259.5 L1093.0 261.4 L1093.9 263.2 L1091.6 264.6 L1089.4 266.8 L1088.7 270.3 L1088.5 271.3 M1075.4 244.2 L1076.2 245.9 L1076.0 249.3 L1075.4 251.8 L1074.4 252.8 M1075.4 251.8 L1076.6 254.2 L1077.3 258.1 L1079.3 256.9 L1081.5 258.1 L1083.5 257.4 L1084.6 254.3 L1087.8 254.0 L1089.0 254.6 M1083.5 257.4 L1089.4 261.1 L1088.3 263.3 L1091.6 263.5 L1093.0 261.4 M1089.4 266.8 L1091.8 267.5 L1094.4 271.0 M1077.3 258.1 L1076.6 260.1 L1076.8 263.1 L1075.0 266.6 L1074.4 270.1 L1074.2 273.7 L1073.4 277.2 L1072.7 280.8 L1072.8 284.3 L1071.8 289.0 L1072.1 291.4 L1076.7 292.9 M1076.5 293.4 L1076.5 296.0 M1086.6 221.2 L1085.1 224.1 L1085.8 225.1 L1086.8 225.9 L1086.8 228.5 L1089.0 229.4 L1090.7 229.0 L1093.0 228.5 L1095.5 228.5 L1096.4 226.5 M1089.9 224.2 L1089.0 226.5 L1090.7 229.0 M1093.0 228.5 L1093.7 227.1 L1093.4 224.5 M1085.8 225.1 L1083.3 226.5 L1081.3 226.5 L1081.9 228.2 L1080.1 230.3 L1078.3 229.8" fill="none" stroke="#000" stroke-width="0.65" stroke-linejoin="round"/>
</g>
<rect x="690" y="339" width="430" height="12" fill="#fff"/>
<g stroke="#8a8a8a" fill="none">
<path d="M697.2 124.9 V337.6 M692.2 124.9 H1112 M697.2 337.6 H1112" stroke="#a4a4a4" stroke-width="1.5"/>
<path d="M697.2 125.4 v-7 M697.2 337.1 v7 M732.6 125.4 v-7 M732.6 337.1 v7 M768.0 125.4 v-7 M768.0 337.1 v7 M803.4 125.4 v-7 M803.4 337.1 v7 M838.8 125.4 v-7 M838.8 337.1 v7 M874.2 125.4 v-7 M874.2 337.1 v7 M909.6 125.4 v-7 M909.6 337.1 v7 M945.0 125.4 v-7 M945.0 337.1 v7 M980.4 125.4 v-7 M980.4 337.1 v7 M1015.8 125.4 v-7 M1015.8 337.1 v7 M1051.2 125.4 v-7 M1051.2 337.1 v7 M1086.6 125.4 v-7 M1086.6 337.1 v7 M1122.0 125.4 v-7 M1122.0 337.1 v7 M697.7 124.9 h-7.5 M697.7 160.3 h-7.5 M697.7 195.7 h-7.5 M697.7 231.1 h-7.5 M697.7 266.5 h-7.5 M697.7 301.9 h-7.5 M697.7 337.3 h-7.5" stroke="#444" stroke-width="0.9"/>
<path d="M709.0 124.9 v-3.2 M709.0 337.6 v3.2 M720.8 124.9 v-3.2 M720.8 337.6 v3.2 M744.4 124.9 v-3.2 M744.4 337.6 v3.2 M756.2 124.9 v-3.2 M756.2 337.6 v3.2 M779.8 124.9 v-3.2 M779.8 337.6 v3.2 M791.6 124.9 v-3.2 M791.6 337.6 v3.2 M815.2 124.9 v-3.2 M815.2 337.6 v3.2 M827.0 124.9 v-3.2 M827.0 337.6 v3.2 M850.6 124.9 v-3.2 M850.6 337.6 v3.2 M862.4 124.9 v-3.2 M862.4 337.6 v3.2 M886.0 124.9 v-3.2 M886.0 337.6 v3.2 M897.8 124.9 v-3.2 M897.8 337.6 v3.2 M921.4 124.9 v-3.2 M921.4 337.6 v3.2 M933.2 124.9 v-3.2 M933.2 337.6 v3.2 M956.8 124.9 v-3.2 M956.8 337.6 v3.2 M968.6 124.9 v-3.2 M968.6 337.6 v3.2 M992.2 124.9 v-3.2 M992.2 337.6 v3.2 M1004.0 124.9 v-3.2 M1004.0 337.6 v3.2 M1027.6 124.9 v-3.2 M1027.6 337.6 v3.2 M1039.4 124.9 v-3.2 M1039.4 337.6 v3.2 M1063.0 124.9 v-3.2 M1063.0 337.6 v3.2 M1074.8 124.9 v-3.2 M1074.8 337.6 v3.2 M1098.4 124.9 v-3.2 M1098.4 337.6 v3.2 M1110.2 124.9 v-3.2 M1110.2 337.6 v3.2 M697.2 136.7 h-3.5 M697.2 148.5 h-3.5 M697.2 172.1 h-3.5 M697.2 183.9 h-3.5 M697.2 207.5 h-3.5 M697.2 219.3 h-3.5 M697.2 242.9 h-3.5 M697.2 254.7 h-3.5 M697.2 278.3 h-3.5 M697.2 290.1 h-3.5 M697.2 313.7 h-3.5 M697.2 325.5 h-3.5" stroke-width="0.7"/>
</g>
<text class="reg" x="683.6" y="128.6" font-size="10.1" text-anchor="end" style="fill:#111">90N</text>
<text class="reg" x="683.6" y="164.0" font-size="10.1" text-anchor="end" style="fill:#111">60N</text>
<text class="reg" x="683.6" y="199.4" font-size="10.1" text-anchor="end" style="fill:#111">30N</text>
<text class="reg" x="683.6" y="234.8" font-size="10.1" text-anchor="end" style="fill:#111">0</text>
<text class="reg" x="683.6" y="270.2" font-size="10.1" text-anchor="end" style="fill:#111">30S</text>
<text class="reg" x="683.6" y="305.6" font-size="10.1" text-anchor="end" style="fill:#111">60S</text>
<text class="reg" x="683.6" y="341.0" font-size="10.1" text-anchor="end" style="fill:#111">90S</text>
<text class="reg" x="697.2" y="359.6" font-size="10.1" text-anchor="middle" style="fill:#111">30W</text>
<text class="reg" x="732.6" y="359.6" font-size="10.1" text-anchor="middle" style="fill:#111">0</text>
<text class="reg" x="768.0" y="359.6" font-size="10.1" text-anchor="middle" style="fill:#111">30E</text>
<text class="reg" x="803.4" y="359.6" font-size="10.1" text-anchor="middle" style="fill:#111">60E</text>
<text class="reg" x="838.8" y="359.6" font-size="10.1" text-anchor="middle" style="fill:#111">90E</text>
<text class="reg" x="874.2" y="359.6" font-size="10.1" text-anchor="middle" style="fill:#111">120E</text>
<text class="reg" x="909.6" y="359.6" font-size="10.1" text-anchor="middle" style="fill:#111">150E</text>
<text class="reg" x="945.0" y="359.6" font-size="10.1" text-anchor="middle" style="fill:#111">180</text>
<text class="reg" x="980.4" y="359.6" font-size="10.1" text-anchor="middle" style="fill:#111">150W</text>
<text class="reg" x="1015.8" y="359.6" font-size="10.1" text-anchor="middle" style="fill:#111">120W</text>
<text class="reg" x="1051.2" y="359.6" font-size="10.1" text-anchor="middle" style="fill:#111">90W</text>
<text class="reg" x="1086.6" y="359.6" font-size="10.1" text-anchor="middle" style="fill:#111">60W</text>
<rect x="753.40" y="366.6" width="31.26" height="18.7" fill="#ffffff" stroke="#333" stroke-width="0.5"/>
<rect x="784.66" y="366.6" width="31.26" height="18.7" fill="#b3e3f8" stroke="#333" stroke-width="0.5"/>
<rect x="815.92" y="366.6" width="31.26" height="18.7" fill="#6cb0e0" stroke="#333" stroke-width="0.5"/>
<rect x="847.18" y="366.6" width="31.26" height="18.7" fill="#3f9b9b" stroke="#333" stroke-width="0.5"/>
<rect x="878.44" y="366.6" width="31.26" height="18.7" fill="#4db748" stroke="#333" stroke-width="0.5"/>
<rect x="909.70" y="366.6" width="31.26" height="18.7" fill="#e9e558" stroke="#333" stroke-width="0.5"/>
<rect x="940.96" y="366.6" width="31.26" height="18.7" fill="#f79c3c" stroke="#333" stroke-width="0.5"/>
<rect x="972.22" y="366.6" width="31.26" height="18.7" fill="#e8522c" stroke="#333" stroke-width="0.5"/>
<rect x="1003.48" y="366.6" width="31.26" height="18.7" fill="#c91f2a" stroke="#333" stroke-width="0.5"/>
<rect x="1034.74" y="366.6" width="31.26" height="18.7" fill="#8f181c" stroke="#333" stroke-width="0.5"/>
<text class="ser" x="784.7" y="398.3" font-size="10.3" text-anchor="middle">0.01</text>
<text class="ser" x="815.9" y="398.3" font-size="10.3" text-anchor="middle">0.02</text>
<text class="ser" x="847.2" y="398.3" font-size="10.3" text-anchor="middle">0.05</text>
<text class="ser" x="878.4" y="398.3" font-size="10.3" text-anchor="middle">0.1</text>
<text class="ser" x="909.7" y="398.3" font-size="10.3" text-anchor="middle">0.2</text>
<text class="ser" x="941.0" y="398.3" font-size="10.3" text-anchor="middle">0.5</text>
<text class="ser" x="972.2" y="398.3" font-size="10.3" text-anchor="middle">1</text>
<text class="ser" x="1003.5" y="398.3" font-size="10.3" text-anchor="middle">2</text>
<text class="ser" x="1034.7" y="398.3" font-size="10.3" text-anchor="middle">5</text>
<text class="ser" x="1084.5" y="381.5" font-size="13.5">t/km<tspan dy="-5" font-size="8.5">2</tspan></text>
<rect x="112" y="470.31" width="57.5" height="39.09" fill="#04304b"/>
<rect x="112" y="459.50" width="57.5" height="10.81" fill="#219ebc"/>
<rect x="112" y="453.27" width="57.5" height="6.24" fill="#fdb94a"/>
<rect x="112" y="442.46" width="57.5" height="10.81" fill="#fb8602"/>
<rect x="112" y="437.88" width="57.5" height="4.57" fill="#c00000"/>
<line x1="112" x2="169.5" y1="470.31" y2="470.31" stroke="#fff" stroke-width="0.9"/>
<line x1="112" x2="169.5" y1="459.50" y2="459.50" stroke="#fff" stroke-width="0.9"/>
<line x1="112" x2="169.5" y1="453.27" y2="453.27" stroke="#fff" stroke-width="0.9"/>
<line x1="112" x2="169.5" y1="442.46" y2="442.46" stroke="#fff" stroke-width="0.9"/>
<rect x="257.2" y="491.52" width="57.5" height="17.88" fill="#04304b"/>
<rect x="257.2" y="488.19" width="57.5" height="3.33" fill="#219ebc"/>
<rect x="257.2" y="486.32" width="57.5" height="1.87" fill="#fdb94a"/>
<rect x="257.2" y="483.62" width="57.5" height="2.70" fill="#fb8602"/>
<rect x="257.2" y="479.46" width="57.5" height="4.16" fill="#c00000"/>
<line x1="257.2" x2="314.7" y1="491.52" y2="491.52" stroke="#fff" stroke-width="0.9"/>
<line x1="257.2" x2="314.7" y1="488.19" y2="488.19" stroke="#fff" stroke-width="0.9"/>
<line x1="257.2" x2="314.7" y1="486.32" y2="486.32" stroke="#fff" stroke-width="0.9"/>
<line x1="257.2" x2="314.7" y1="483.62" y2="483.62" stroke="#fff" stroke-width="0.9"/>
<rect x="402" y="422.50" width="57.5" height="86.90" fill="#04304b"/>
<rect x="402" y="414.60" width="57.5" height="7.90" fill="#219ebc"/>
<rect x="402" y="411.27" width="57.5" height="3.33" fill="#fdb94a"/>
<rect x="402" y="402.12" width="57.5" height="9.15" fill="#fb8602"/>
<rect x="402" y="396.30" width="57.5" height="5.82" fill="#c00000"/>
<line x1="402" x2="459.5" y1="422.50" y2="422.50" stroke="#fff" stroke-width="0.9"/>
<line x1="402" x2="459.5" y1="414.60" y2="414.60" stroke="#fff" stroke-width="0.9"/>
<line x1="402" x2="459.5" y1="411.27" y2="411.27" stroke="#fff" stroke-width="0.9"/>
<line x1="402" x2="459.5" y1="402.12" y2="402.12" stroke="#fff" stroke-width="0.9"/>
<rect x="546.8" y="266.16" width="57.5" height="243.24" fill="#04304b"/>
<rect x="546.8" y="221.25" width="57.5" height="44.91" fill="#219ebc"/>
<rect x="546.8" y="207.53" width="57.5" height="13.72" fill="#fdb94a"/>
<rect x="546.8" y="151.81" width="57.5" height="55.72" fill="#fb8602"/>
<rect x="546.8" y="129.57" width="57.5" height="22.25" fill="#c00000"/>
<line x1="546.8" x2="604.3" y1="266.16" y2="266.16" stroke="#fff" stroke-width="0.9"/>
<line x1="546.8" x2="604.3" y1="221.25" y2="221.25" stroke="#fff" stroke-width="0.9"/>
<line x1="546.8" x2="604.3" y1="207.53" y2="207.53" stroke="#fff" stroke-width="0.9"/>
<line x1="546.8" x2="604.3" y1="151.81" y2="151.81" stroke="#fff" stroke-width="0.9"/>
<rect x="68" y="93.6" width="581.3" height="415.79999999999995" fill="none" stroke="#000" stroke-width="2.3"/>
<line x1="68" x2="73" y1="426.24" y2="426.24" stroke="#000" stroke-width="1.2"/>
<line x1="68" x2="73" y1="343.08" y2="343.08" stroke="#000" stroke-width="1.2"/>
<line x1="68" x2="73" y1="259.92" y2="259.92" stroke="#000" stroke-width="1.2"/>
<line x1="68" x2="73" y1="176.76" y2="176.76" stroke="#000" stroke-width="1.2"/>
<text x="48.8" y="516.80" font-size="20.8" text-anchor="end" textLength="11.5" lengthAdjust="spacingAndGlyphs">0</text>
<text x="48.8" y="433.64" font-size="20.8" text-anchor="end" textLength="23.5" lengthAdjust="spacingAndGlyphs">20</text>
<text x="48.8" y="350.48" font-size="20.8" text-anchor="end" textLength="23.5" lengthAdjust="spacingAndGlyphs">40</text>
<text x="48.8" y="267.32" font-size="20.8" text-anchor="end" textLength="23.5" lengthAdjust="spacingAndGlyphs">60</text>
<text x="48.8" y="184.16" font-size="20.8" text-anchor="end" textLength="23.5" lengthAdjust="spacingAndGlyphs">80</text>
<text x="48.8" y="101.00" font-size="20.8" text-anchor="end" textLength="35.5" lengthAdjust="spacingAndGlyphs">100</text>
<path d="M67 352.4 H526" fill="none" stroke="#000" stroke-width="2.3" stroke-dasharray="9.3 9.4"/>
<path d="M526.3 98.7 V346" fill="none" stroke="#000" stroke-width="2.3" stroke-dasharray="9.3 8.86"/>
<path d="M526.3 348.6 V353.45" fill="none" stroke="#000" stroke-width="2.3"/>
<text x="140.15" y="542.8" font-size="20.8" text-anchor="middle" textLength="72.6" lengthAdjust="spacingAndGlyphs">xLVOC</text>
<text x="286.0" y="542.8" font-size="20.8" text-anchor="middle" textLength="63.3" lengthAdjust="spacingAndGlyphs">SVOC</text>
<text x="431.0" y="542.8" font-size="20.8" text-anchor="middle" textLength="54.3" lengthAdjust="spacingAndGlyphs">IVOC</text>
<text x="575.5" y="542.8" font-size="20.8" text-anchor="middle" textLength="48.3" lengthAdjust="spacingAndGlyphs">VOC</text>
<text transform="translate(15.2,479.2) rotate(-90)" font-size="21.6" textLength="357" lengthAdjust="spacingAndGlyphs">emissions during 1997-2023, Mt/yr</text>
<text x="-11.9" y="76.9" font-size="18.2" text-anchor="start" textLength="89.5" lengthAdjust="spacingAndGlyphs">Grassland</text>
<rect x="91.1" y="67.2" width="7.9" height="7.8" fill="#219ebc"/>
<text x="104.3" y="76.9" font-size="18.2" text-anchor="start" textLength="113" lengthAdjust="spacingAndGlyphs">Boreal forest</text>
<rect x="231.9" y="67.2" width="7.9" height="7.8" fill="#fdb94a"/>
<text x="245.1" y="76.9" font-size="18.2" text-anchor="start" textLength="148.5" lengthAdjust="spacingAndGlyphs">Temperate forest</text>
<rect x="407" y="67.2" width="7.9" height="7.8" fill="#fb8602"/>
<text x="420.2" y="76.9" font-size="18.2" text-anchor="start" textLength="128" lengthAdjust="spacingAndGlyphs">Tropical forest</text>
<rect x="561.4" y="67.2" width="7.9" height="7.8" fill="#c00000"/>
<text x="574.6" y="76.9" font-size="18.2" text-anchor="start" textLength="75.5" lengthAdjust="spacingAndGlyphs">Peatland</text>
<rect x="261" y="111.7" width="7.2" height="7.3" fill="#ff0000"/>
<text x="274.9" y="120.9" font-size="19.4" text-anchor="start" textLength="96.5" lengthAdjust="spacingAndGlyphs">Aliphatics</text>
<rect x="261" y="142.9" width="7.2" height="7.3" fill="#f4b183"/>
<text x="274.9" y="152.1" font-size="19.4" text-anchor="start" textLength="147" lengthAdjust="spacingAndGlyphs">Benzene series</text>
<rect x="261" y="174.1" width="7.2" height="7.3" fill="#ffe699"/>
<text x="274.9" y="183.3" font-size="19.4" text-anchor="start" textLength="131" lengthAdjust="spacingAndGlyphs">Heterocyclics</text>
<rect x="261" y="205.3" width="7.2" height="7.3" fill="#a9d18e"/>
<text x="274.9" y="214.5" font-size="19.4" text-anchor="start" textLength="95" lengthAdjust="spacingAndGlyphs">Phenolics</text>
<rect x="261" y="236.5" width="7.2" height="7.3" fill="#9dc3e6"/>
<text x="274.9" y="245.7" font-size="19.4" text-anchor="start" textLength="199" lengthAdjust="spacingAndGlyphs">Polycyclic aromatics</text>
<rect x="261" y="267.7" width="7.2" height="7.3" fill="#1f4e79"/>
<text x="274.9" y="276.9" font-size="19.4" text-anchor="start" textLength="89" lengthAdjust="spacingAndGlyphs">Terpenes</text>
<rect x="261" y="298.9" width="7.2" height="7.3" fill="#a6a6a6"/>
<text x="274.9" y="308.1" font-size="19.4" text-anchor="start" textLength="114" lengthAdjust="spacingAndGlyphs">Unspecified</text>
<rect x="261" y="330.1" width="7.2" height="7.3" fill="#404040"/>
<text x="274.9" y="339.3" font-size="19.4" text-anchor="start" textLength="242" lengthAdjust="spacingAndGlyphs">Primary organic aerosols</text>
<path d="M163.6 216.7 L163.60 140.80 A75.9 75.9 0 1 1 135.29 287.12 Z" fill="#ff0000" stroke="#fff" stroke-width="2.3" stroke-linejoin="round"/>
<path d="M163.6 216.7 L135.29 287.12 A75.9 75.9 0 0 1 113.61 273.81 Z" fill="#f4b183" stroke="#fff" stroke-width="2.3" stroke-linejoin="round"/>
<path d="M163.6 216.7 L113.61 273.81 A75.9 75.9 0 0 1 90.25 236.22 Z" fill="#ffe699" stroke="#fff" stroke-width="2.3" stroke-linejoin="round"/>
<path d="M163.6 216.7 L90.25 236.22 A75.9 75.9 0 0 1 87.70 217.23 Z" fill="#a9d18e" stroke="#fff" stroke-width="2.3" stroke-linejoin="round"/>
<path d="M163.6 216.7 L87.70 217.23 A75.9 75.9 0 0 1 87.78 213.26 Z" fill="#9dc3e6" stroke="#fff" stroke-width="2.3" stroke-linejoin="round"/>
<path d="M163.6 216.7 L87.78 213.26 A75.9 75.9 0 0 1 88.17 208.24 Z" fill="#1f4e79" stroke="#fff" stroke-width="2.3" stroke-linejoin="round"/>
<path d="M163.6 216.7 L88.17 208.24 A75.9 75.9 0 0 1 96.40 181.42 Z" fill="#a6a6a6" stroke="#fff" stroke-width="2.3" stroke-linejoin="round"/>
<path d="M163.6 216.7 L96.40 181.42 A75.9 75.9 0 0 1 163.60 140.80 Z" fill="#404040" stroke="#fff" stroke-width="2.3" stroke-linejoin="round"/>
<text x="199.1" y="225.2" font-size="19.8" text-anchor="middle" textLength="44" lengthAdjust="spacingAndGlyphs" style="fill:#fff">56%</text>
<text x="138.3" y="179.6" font-size="19.8" text-anchor="middle" textLength="43" lengthAdjust="spacingAndGlyphs" style="fill:#fff">17%</text>
<text x="118.5" y="253.2" font-size="19.8" text-anchor="middle" textLength="31.5" lengthAdjust="spacingAndGlyphs">9%</text>
<text x="-15.5" y="589.7" font-size="33" text-anchor="start" textLength="1141" lengthAdjust="spacingAndGlyphs">Global wildland fire full-volatility organic emission inventory (1997-2023)</text>
<text x="366" y="630" font-size="33" text-anchor="start" textLength="390.5" lengthAdjust="spacingAndGlyphs">with chemical speciation</text>
<text x="713.2" y="431.8" font-size="29.2" text-anchor="start" textLength="373" lengthAdjust="spacingAndGlyphs">(Averaged over 1997-2023)</text>
</svg></body></html>
